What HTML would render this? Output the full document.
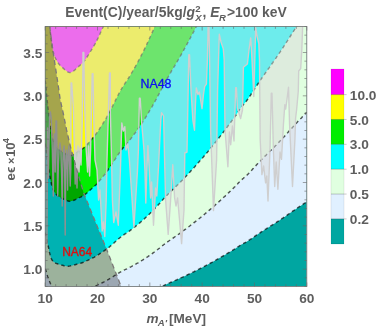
<!DOCTYPE html>
<html><head><meta charset="utf-8"><title>Contour plot</title>
<style>
html,body{margin:0;padding:0;background:#fff;}
body{width:382px;height:328px;overflow:hidden;font-family:"Liberation Sans",sans-serif;}
svg{display:block;}
text{font-family:"Liberation Sans",sans-serif;font-weight:bold;fill:#5e5e5e;}
.tl{font-size:13.7px;}
.it{font-style:italic;}
</style></head><body>
<svg width="382" height="328" viewBox="0 0 382 328">
<defs><filter id="ga" filterUnits="userSpaceOnUse" x="0" y="0" width="382" height="328"><feOffset dx="0" dy="0"/></filter><clipPath id="pc"><rect x="45.2" y="26.5" width="261.6" height="260.0"/></clipPath></defs>
<rect width="382" height="328" fill="#fff"/>
<g clip-path="url(#pc)">
<rect x="45.2" y="26.5" width="261.6" height="260.0" fill="#00a6a1"/>
<polygon points="45.2,-50.0 45.2,300.8 45.9,301.9 46.5,303.2 47.2,304.8 47.8,305.9 48.5,306.9 49.1,307.9 49.8,309.2 50.4,310.1 51.1,310.9 51.7,311.6 52.4,312.2 53.0,312.7 53.7,313.1 54.4,313.3 55.0,313.6 55.7,313.8 56.3,314.0 57.0,314.2 57.6,314.3 58.3,314.4 58.9,314.6 59.6,314.7 60.2,314.8 60.9,314.9 61.6,315.0 62.2,315.0 62.9,315.1 63.5,315.2 64.2,315.3 64.8,315.4 65.5,315.4 66.1,315.5 66.8,315.6 67.4,315.7 68.1,315.7 68.7,315.7 69.4,315.8 70.1,315.8 70.7,315.7 71.4,315.7 72.0,315.7 72.7,315.6 73.3,315.6 74.0,315.5 74.6,315.4 75.3,315.3 75.9,315.3 76.6,315.2 77.2,315.1 77.9,315.0 78.6,314.9 79.2,314.8 79.9,314.8 80.5,314.7 81.2,314.6 81.8,314.5 82.5,314.4 83.1,314.3 83.8,314.2 84.4,314.1 85.1,314.0 85.7,313.9 86.4,313.7 87.1,313.6 87.7,313.4 88.4,313.3 89.0,313.1 89.7,313.0 90.3,312.8 91.0,312.7 91.6,312.5 92.3,312.4 92.9,312.2 93.6,312.1 94.2,311.9 94.9,311.8 95.6,311.6 96.2,311.4 96.9,311.2 97.5,311.0 98.2,310.8 98.8,310.6 99.5,310.4 100.1,310.2 100.8,310.0 101.4,309.8 102.1,309.6 102.8,309.4 103.4,309.2 104.1,309.0 104.7,308.8 105.4,308.6 106.0,308.4 106.7,308.1 107.3,307.9 108.0,307.7 108.6,307.4 109.3,307.2 109.9,306.9 110.6,306.7 111.3,306.4 111.9,306.2 112.6,305.9 113.2,305.6 113.9,305.4 114.5,305.1 115.2,304.8 115.8,304.6 116.5,304.3 117.1,304.1 117.8,303.8 118.4,303.6 119.1,303.3 119.8,303.1 120.4,302.8 121.1,302.6 121.7,302.4 122.4,302.2 123.0,301.9 123.7,301.7 124.3,301.5 125.0,301.3 125.6,301.2 126.3,301.0 127.0,300.8 127.6,300.6 128.3,300.4 128.9,300.2 129.6,300.0 130.2,299.7 130.9,299.5 131.5,299.3 132.2,299.1 132.8,298.8 133.5,298.6 134.1,298.4 134.8,298.2 135.5,297.9 136.1,297.7 136.8,297.5 137.4,297.2 138.1,297.0 138.7,296.7 139.4,296.5 140.0,296.2 140.7,296.0 141.3,295.7 142.0,295.5 142.6,295.2 143.3,295.0 144.0,294.7 144.6,294.4 145.3,294.2 145.9,293.9 146.6,293.6 147.2,293.3 147.9,293.1 148.5,292.8 149.2,292.5 149.8,292.2 150.5,291.9 151.1,291.6 151.8,291.3 152.5,291.0 153.1,290.7 153.8,290.4 154.4,290.1 155.1,289.8 155.7,289.5 156.4,289.2 157.0,288.9 157.7,288.6 158.3,288.3 159.0,287.9 159.7,287.6 160.3,287.3 161.0,286.9 161.6,286.6 162.3,286.2 162.9,285.9 163.6,285.6 164.2,285.3 164.9,285.0 165.5,284.7 166.2,284.4 166.8,284.1 167.5,283.8 168.2,283.5 168.8,283.2 169.5,282.9 170.1,282.6 170.8,282.3 171.4,282.1 172.1,281.8 172.7,281.5 173.4,281.2 174.0,280.9 174.7,280.6 175.3,280.4 176.0,280.1 176.7,279.8 177.3,279.5 178.0,279.2 178.6,278.9 179.3,278.6 179.9,278.3 180.6,278.0 181.2,277.7 181.9,277.4 182.5,277.1 183.2,276.8 183.8,276.5 184.5,276.2 185.2,275.9 185.8,275.6 186.5,275.3 187.1,275.0 187.8,274.6 188.4,274.3 189.1,274.0 189.7,273.7 190.4,273.4 191.0,273.1 191.7,272.7 192.4,272.4 193.0,272.1 193.7,271.8 194.3,271.5 195.0,271.1 195.6,270.8 196.3,270.5 196.9,270.2 197.6,269.8 198.2,269.5 198.9,269.2 199.5,268.8 200.2,268.5 200.9,268.2 201.5,267.8 202.2,267.5 202.8,267.2 203.5,266.8 204.1,266.5 204.8,266.1 205.4,265.8 206.1,265.4 206.7,265.1 207.4,264.8 208.0,264.4 208.7,264.0 209.4,263.7 210.0,263.3 210.7,263.0 211.3,262.6 212.0,262.3 212.6,261.9 213.3,261.5 213.9,261.2 214.6,260.8 215.2,260.4 215.9,260.1 216.5,259.7 217.2,259.3 217.9,259.0 218.5,258.6 219.2,258.2 219.8,257.8 220.5,257.5 221.1,257.1 221.8,256.7 222.4,256.3 223.1,256.0 223.7,255.6 224.4,255.2 225.1,254.8 225.7,254.4 226.4,254.0 227.0,253.6 227.7,253.2 228.3,252.8 229.0,252.5 229.6,252.1 230.3,251.7 230.9,251.3 231.6,250.9 232.2,250.5 232.9,250.1 233.6,249.7 234.2,249.3 234.9,248.9 235.5,248.4 236.2,248.0 236.8,247.6 237.5,247.2 238.1,246.7 238.8,246.3 239.4,245.8 240.1,245.4 240.7,245.0 241.4,244.6 242.1,244.3 242.7,243.9 243.4,243.5 244.0,243.2 244.7,242.8 245.3,242.5 246.0,242.1 246.6,241.7 247.3,241.3 247.9,240.9 248.6,240.5 249.2,240.1 249.9,239.7 250.6,239.2 251.2,238.8 251.9,238.3 252.5,237.9 253.2,237.4 253.8,236.9 254.5,236.5 255.1,236.0 255.8,235.6 256.4,235.1 257.1,234.7 257.8,234.3 258.4,233.8 259.1,233.4 259.7,233.0 260.4,232.6 261.0,232.1 261.7,231.7 262.3,231.3 263.0,230.9 263.6,230.5 264.3,230.0 264.9,229.6 265.6,229.2 266.3,228.8 266.9,228.4 267.6,228.0 268.2,227.6 268.9,227.2 269.5,226.7 270.2,226.3 270.8,225.9 271.5,225.5 272.1,225.1 272.8,224.7 273.4,224.3 274.1,223.8 274.8,223.4 275.4,223.0 276.1,222.6 276.7,222.2 277.4,221.7 278.0,221.3 278.7,220.9 279.3,220.4 280.0,220.0 280.6,219.6 281.3,219.1 281.9,218.7 282.6,218.2 283.3,217.8 283.9,217.3 284.6,216.9 285.2,216.4 285.9,216.0 286.5,215.5 287.2,215.1 287.8,214.6 288.5,214.2 289.1,213.7 289.8,213.2 290.5,212.8 291.1,212.3 291.8,211.9 292.4,211.4 293.1,211.0 293.7,210.5 294.4,210.1 295.0,209.6 295.7,209.2 296.3,208.7 297.0,208.3 297.6,207.8 298.3,207.4 299.0,207.0 299.6,206.5 300.3,206.1 300.9,205.7 301.6,205.2 302.2,204.8 302.9,204.4 303.5,203.9 304.2,203.5 304.8,203.1 305.5,202.6 306.1,202.2 306.8,201.8 306.8,-50.0" fill="#e0f0ff"/>
<polygon points="45.2,-50.0 45.2,268.8 45.9,270.6 46.5,272.7 47.2,275.1 47.8,277.0 48.5,278.5 49.1,280.1 49.8,282.1 50.4,283.5 51.1,284.8 51.7,285.9 52.4,286.9 53.0,287.7 53.7,288.2 54.4,288.7 55.0,289.0 55.7,289.4 56.3,289.7 57.0,289.9 57.6,290.2 58.3,290.4 58.9,290.6 59.6,290.8 60.2,290.9 60.9,291.1 61.6,291.2 62.2,291.3 62.9,291.5 63.5,291.6 64.2,291.7 64.8,291.8 65.5,292.0 66.1,292.1 66.8,292.2 67.4,292.3 68.1,292.4 68.7,292.4 69.4,292.5 70.1,292.5 70.7,292.5 71.4,292.4 72.0,292.3 72.7,292.3 73.3,292.2 74.0,292.1 74.6,291.9 75.3,291.8 75.9,291.7 76.6,291.5 77.2,291.4 77.9,291.3 78.6,291.1 79.2,291.0 79.9,290.9 80.5,290.8 81.2,290.6 81.8,290.5 82.5,290.4 83.1,290.2 83.8,290.0 84.4,289.9 85.1,289.7 85.7,289.5 86.4,289.2 87.1,289.0 87.7,288.8 88.4,288.5 89.0,288.3 89.7,288.0 90.3,287.8 91.0,287.6 91.6,287.3 92.3,287.1 92.9,286.9 93.6,286.6 94.2,286.4 94.9,286.1 95.6,285.9 96.2,285.6 96.9,285.3 97.5,285.0 98.2,284.7 98.8,284.4 99.5,284.1 100.1,283.8 100.8,283.4 101.4,283.1 102.1,282.8 102.8,282.5 103.4,282.1 104.1,281.8 104.7,281.5 105.4,281.1 106.0,280.8 106.7,280.4 107.3,280.1 108.0,279.7 108.6,279.3 109.3,278.9 109.9,278.5 110.6,278.1 111.3,277.7 111.9,277.3 112.6,276.9 113.2,276.5 113.9,276.0 114.5,275.6 115.2,275.2 115.8,274.8 116.5,274.4 117.1,274.0 117.8,273.6 118.4,273.2 119.1,272.8 119.8,272.4 120.4,272.0 121.1,271.7 121.7,271.3 122.4,271.0 123.0,270.6 123.7,270.3 124.3,270.0 125.0,269.7 125.6,269.4 126.3,269.1 127.0,268.8 127.6,268.5 128.3,268.1 128.9,267.8 129.6,267.5 130.2,267.1 130.9,266.8 131.5,266.4 132.2,266.1 132.8,265.7 133.5,265.4 134.1,265.0 134.8,264.6 135.5,264.3 136.1,263.9 136.8,263.5 137.4,263.1 138.1,262.8 138.7,262.4 139.4,262.0 140.0,261.6 140.7,261.2 141.3,260.8 142.0,260.4 142.6,260.0 143.3,259.6 144.0,259.2 144.6,258.8 145.3,258.3 145.9,257.9 146.6,257.5 147.2,257.0 147.9,256.6 148.5,256.2 149.2,255.7 149.8,255.2 150.5,254.8 151.1,254.3 151.8,253.9 152.5,253.4 153.1,252.9 153.8,252.4 154.4,252.0 155.1,251.5 155.7,251.0 156.4,250.5 157.0,250.0 157.7,249.5 158.3,249.0 159.0,248.5 159.7,248.0 160.3,247.4 161.0,246.9 161.6,246.3 162.3,245.8 162.9,245.3 163.6,244.8 164.2,244.3 164.9,243.8 165.5,243.3 166.2,242.9 166.8,242.4 167.5,241.9 168.2,241.5 168.8,241.0 169.5,240.5 170.1,240.1 170.8,239.6 171.4,239.2 172.1,238.7 172.7,238.3 173.4,237.8 174.0,237.4 174.7,236.9 175.3,236.5 176.0,236.0 176.7,235.6 177.3,235.1 178.0,234.7 178.6,234.2 179.3,233.8 179.9,233.3 180.6,232.8 181.2,232.4 181.9,231.9 182.5,231.4 183.2,230.9 183.8,230.4 184.5,229.9 185.2,229.4 185.8,229.0 186.5,228.5 187.1,228.0 187.8,227.5 188.4,227.0 189.1,226.5 189.7,226.0 190.4,225.5 191.0,225.0 191.7,224.5 192.4,224.0 193.0,223.5 193.7,222.9 194.3,222.4 195.0,221.9 195.6,221.4 196.3,220.9 196.9,220.4 197.6,219.9 198.2,219.3 198.9,218.8 199.5,218.3 200.2,217.8 200.9,217.2 201.5,216.7 202.2,216.2 202.8,215.6 203.5,215.1 204.1,214.6 204.8,214.0 205.4,213.5 206.1,212.9 206.7,212.4 207.4,211.8 208.0,211.3 208.7,210.7 209.4,210.1 210.0,209.6 210.7,209.0 211.3,208.5 212.0,207.9 212.6,207.3 213.3,206.7 213.9,206.2 214.6,205.6 215.2,205.0 215.9,204.4 216.5,203.9 217.2,203.3 217.9,202.7 218.5,202.1 219.2,201.5 219.8,200.9 220.5,200.3 221.1,199.7 221.8,199.1 222.4,198.5 223.1,197.9 223.7,197.3 224.4,196.7 225.1,196.1 225.7,195.5 226.4,194.9 227.0,194.2 227.7,193.6 228.3,193.0 229.0,192.4 229.6,191.7 230.3,191.1 230.9,190.5 231.6,189.9 232.2,189.2 232.9,188.6 233.6,188.0 234.2,187.3 234.9,186.7 235.5,186.0 236.2,185.4 236.8,184.7 237.5,184.0 238.1,183.3 238.8,182.6 239.4,181.9 240.1,181.3 240.7,180.6 241.4,180.0 242.1,179.4 242.7,178.8 243.4,178.3 244.0,177.7 244.7,177.2 245.3,176.6 246.0,176.0 246.6,175.4 247.3,174.8 247.9,174.2 248.6,173.5 249.2,172.8 249.9,172.1 250.6,171.4 251.2,170.7 251.9,170.0 252.5,169.3 253.2,168.6 253.8,167.8 254.5,167.1 255.1,166.4 255.8,165.7 256.4,165.0 257.1,164.3 257.8,163.6 258.4,162.9 259.1,162.3 259.7,161.6 260.4,160.9 261.0,160.2 261.7,159.6 262.3,158.9 263.0,158.3 263.6,157.6 264.3,157.0 264.9,156.3 265.6,155.6 266.3,155.0 266.9,154.3 267.6,153.7 268.2,153.0 268.9,152.4 269.5,151.7 270.2,151.1 270.8,150.4 271.5,149.8 272.1,149.1 272.8,148.5 273.4,147.8 274.1,147.1 274.8,146.5 275.4,145.8 276.1,145.2 276.7,144.5 277.4,143.8 278.0,143.1 278.7,142.5 279.3,141.8 280.0,141.1 280.6,140.4 281.3,139.7 281.9,139.0 282.6,138.3 283.3,137.6 283.9,136.9 284.6,136.2 285.2,135.4 285.9,134.7 286.5,134.0 287.2,133.3 287.8,132.6 288.5,131.8 289.1,131.1 289.8,130.4 290.5,129.7 291.1,128.9 291.8,128.2 292.4,127.5 293.1,126.8 293.7,126.1 294.4,125.4 295.0,124.6 295.7,123.9 296.3,123.2 297.0,122.5 297.6,121.8 298.3,121.1 299.0,120.5 299.6,119.8 300.3,119.1 300.9,118.4 301.6,117.7 302.2,117.0 302.9,116.3 303.5,115.6 304.2,115.0 304.8,114.3 305.5,113.6 306.1,112.9 306.8,112.2 306.8,-50.0" fill="#e0ffe0"/>
<polygon points="45.2,-50.0 45.2,232.8 45.9,235.2 46.5,238.2 47.2,241.7 47.8,244.3 48.3,246.4 48.8,248.7 49.3,251.6 49.8,253.6 50.2,255.4 50.7,257.0 51.2,258.3 51.7,259.4 52.1,260.2 52.6,260.8 53.1,261.4 53.6,261.9 54.1,262.3 54.8,262.6 55.4,263.0 56.1,263.3 56.7,263.6 57.4,263.8 58.0,264.0 58.7,264.2 59.4,264.4 60.0,264.6 60.7,264.8 61.3,265.0 62.0,265.2 62.6,265.3 63.3,265.5 63.9,265.7 64.6,265.9 65.2,266.0 65.9,266.1 66.5,266.2 67.2,266.2 67.9,266.2 68.5,266.2 69.2,266.1 69.8,266.1 70.5,265.9 71.1,265.8 71.8,265.6 72.4,265.5 73.1,265.3 73.8,265.1 74.5,264.9 75.2,264.7 75.9,264.5 76.6,264.3 77.3,264.1 78.0,264.0 78.7,263.8 79.4,263.6 80.1,263.4 80.7,263.2 81.4,263.0 82.1,262.8 82.8,262.5 83.5,262.3 84.2,262.0 84.9,261.7 85.6,261.3 86.3,261.0 87.0,260.6 87.7,260.3 88.4,260.0 89.1,259.6 89.8,259.3 90.5,259.0 91.2,258.7 91.9,258.3 92.6,258.0 93.3,257.6 94.0,257.3 94.7,256.9 95.3,256.5 96.0,256.1 96.7,255.7 97.4,255.2 98.1,254.8 98.8,254.4 99.5,253.9 100.2,253.4 100.9,253.0 101.6,252.5 102.3,252.1 103.0,251.6 103.7,251.1 104.4,250.7 105.1,250.2 105.8,249.7 106.5,249.2 107.2,248.7 107.9,248.1 108.6,247.6 109.2,247.1 109.9,246.5 110.6,245.9 111.3,245.3 111.9,244.8 112.6,244.2 113.2,243.6 113.9,243.0 114.5,242.4 115.2,241.8 115.8,241.2 116.5,240.7 117.1,240.1 117.8,239.5 118.4,238.9 119.1,238.4 119.8,237.8 120.4,237.3 121.1,236.8 121.7,236.3 122.4,235.8 123.0,235.3 123.7,234.9 124.3,234.4 125.0,234.0 125.6,233.6 126.3,233.1 127.0,232.7 127.6,232.3 128.3,231.8 128.9,231.4 129.6,230.9 130.2,230.4 130.9,229.9 131.5,229.4 132.2,228.9 132.8,228.4 133.5,227.9 134.1,227.4 134.8,226.9 135.5,226.4 136.1,225.8 136.8,225.3 137.4,224.8 138.1,224.2 138.7,223.7 139.4,223.1 140.0,222.6 140.7,222.0 141.3,221.4 142.0,220.9 142.6,220.3 143.3,219.7 144.0,219.1 144.6,218.5 145.3,217.9 145.9,217.3 146.6,216.7 147.2,216.1 147.9,215.5 148.5,214.9 149.2,214.2 149.8,213.6 150.5,212.9 151.1,212.3 151.8,211.6 152.5,211.0 153.1,210.3 153.8,209.6 154.4,208.9 155.1,208.2 155.7,207.5 156.4,206.9 157.0,206.1 157.7,205.4 158.3,204.7 159.0,204.0 159.7,203.3 160.3,202.5 161.0,201.8 161.6,201.0 162.3,200.2 162.9,199.5 163.6,198.8 164.2,198.1 164.9,197.4 165.5,196.7 166.2,196.1 166.8,195.4 167.5,194.7 168.2,194.1 168.8,193.4 169.5,192.8 170.1,192.1 170.8,191.5 171.4,190.9 172.1,190.2 172.7,189.6 173.4,189.0 174.0,188.3 174.7,187.7 175.3,187.0 176.0,186.4 176.7,185.8 177.3,185.1 178.0,184.5 178.6,183.8 179.3,183.2 179.9,182.5 180.6,181.9 181.2,181.2 181.9,180.5 182.5,179.9 183.2,179.2 183.8,178.5 184.5,177.8 185.2,177.1 185.8,176.4 186.5,175.7 187.1,175.0 187.8,174.3 188.4,173.6 189.1,172.9 189.7,172.2 190.4,171.5 191.0,170.8 191.7,170.1 192.4,169.3 193.0,168.6 193.7,167.9 194.3,167.2 195.0,166.5 195.6,165.7 196.3,165.0 196.9,164.3 197.6,163.5 198.2,162.8 198.9,162.1 199.5,161.3 200.2,160.6 200.9,159.8 201.5,159.1 202.2,158.3 202.8,157.6 203.5,156.8 204.1,156.0 204.8,155.3 205.4,154.5 206.1,153.7 206.7,152.9 207.4,152.2 208.0,151.4 208.7,150.6 209.4,149.8 210.0,149.0 210.7,148.2 211.3,147.4 212.0,146.6 212.6,145.8 213.3,145.0 213.9,144.2 214.6,143.4 215.2,142.5 215.9,141.7 216.5,140.9 217.2,140.1 217.9,139.2 218.5,138.4 219.2,137.6 219.8,136.7 220.5,135.9 221.1,135.0 221.8,134.2 222.4,133.3 223.1,132.5 223.7,131.6 224.4,130.8 225.1,129.9 225.7,129.0 226.4,128.2 227.0,127.3 227.7,126.4 228.3,125.5 229.0,124.7 229.6,123.8 230.3,122.9 230.9,122.0 231.6,121.1 232.2,120.2 232.9,119.3 233.6,118.4 234.2,117.5 234.9,116.6 235.5,115.7 236.2,114.8 236.8,113.8 237.5,112.8 238.1,111.8 238.8,110.9 239.4,109.9 240.1,109.0 240.7,108.1 241.4,107.2 242.1,106.3 242.7,105.5 243.4,104.7 244.0,103.9 244.7,103.2 245.3,102.4 246.0,101.5 246.6,100.7 247.3,99.8 247.9,98.9 248.6,98.0 249.2,97.0 249.9,96.0 250.6,95.1 251.2,94.0 251.9,93.0 252.5,92.0 253.2,91.0 253.8,90.0 254.5,89.0 255.1,87.9 255.8,86.9 256.4,85.9 257.1,85.0 257.8,84.0 258.4,83.0 259.1,82.1 259.7,81.1 260.4,80.2 261.0,79.2 261.7,78.3 262.3,77.4 263.0,76.4 263.6,75.5 264.3,74.6 264.9,73.6 265.6,72.7 266.3,71.8 266.9,70.9 267.6,70.0 268.2,69.0 268.9,68.1 269.5,67.2 270.2,66.3 270.8,65.3 271.5,64.4 272.1,63.5 272.8,62.6 273.4,61.6 274.1,60.7 274.8,59.8 275.4,58.8 276.1,57.9 276.7,56.9 277.4,56.0 278.0,55.0 278.7,54.1 279.3,53.1 280.0,52.1 280.6,51.2 281.3,50.2 281.9,49.2 282.6,48.2 283.3,47.2 283.9,46.2 284.6,45.2 285.2,44.2 285.9,43.1 286.5,42.1 287.2,41.1 287.8,40.1 288.5,39.1 289.1,38.0 289.8,37.0 290.5,36.0 291.1,35.0 291.8,33.9 292.4,32.9 293.1,31.9 293.7,30.9 294.4,29.9 295.0,28.9 295.7,27.9 296.3,26.9 297.0,25.9 297.6,24.9 298.3,23.9 299.0,23.0 299.6,22.0 300.3,21.0 300.9,20.0 301.6,19.1 302.2,18.1 302.9,17.1 303.5,16.1 304.2,15.2 304.8,14.2 305.5,13.3 306.1,12.3 306.8,11.3 306.8,-50.0" fill="#00ffff"/>
<polygon points="45.2,-50.0 45.2,143.5 45.9,147.8 46.5,152.9 47.2,159.0 47.8,163.4 48.5,167.1 49.1,171.1 49.8,175.9 50.4,179.4 51.1,182.5 51.7,185.3 52.4,187.6 53.0,189.5 53.7,190.9 54.4,191.9 55.0,192.9 55.7,193.7 56.3,194.4 57.0,195.1 57.6,195.6 58.3,196.2 58.9,196.6 59.6,197.1 60.2,197.5 60.9,197.8 61.6,198.2 62.2,198.5 62.9,198.8 63.5,199.1 64.2,199.4 64.8,199.7 65.5,200.0 66.1,200.3 66.8,200.6 67.4,200.8 68.1,201.0 68.7,201.2 69.4,201.3 70.1,201.3 70.7,201.2 71.4,201.1 72.0,200.9 72.7,200.7 73.3,200.5 74.0,200.2 74.6,200.0 75.3,199.6 75.9,199.3 76.6,199.0 77.2,198.6 77.9,198.3 78.6,198.0 79.2,197.7 79.9,197.4 80.5,197.1 81.2,196.8 81.8,196.4 82.5,196.1 83.1,195.7 83.8,195.3 84.4,194.9 85.1,194.4 85.7,193.9 86.4,193.4 87.1,192.8 87.7,192.2 88.4,191.6 89.0,191.0 89.7,190.4 90.3,189.9 91.0,189.3 91.6,188.7 92.3,188.2 92.9,187.6 93.6,187.0 94.2,186.4 94.9,185.8 95.6,185.2 96.2,184.5 96.9,183.8 97.5,183.0 98.2,182.3 98.8,181.5 99.5,180.8 100.1,180.0 100.8,179.2 101.4,178.4 102.1,177.6 102.8,176.8 103.4,176.0 104.1,175.2 104.7,174.4 105.4,173.6 106.0,172.7 106.7,171.9 107.3,171.0 108.0,170.1 108.6,169.1 109.3,168.2 109.9,167.2 110.6,166.2 111.3,165.2 111.9,164.2 112.6,163.2 113.2,162.2 113.9,161.2 114.5,160.2 115.2,159.2 115.8,158.1 116.5,157.1 117.1,156.1 117.8,155.2 118.4,154.2 119.1,153.2 119.8,152.3 120.4,151.4 121.1,150.5 121.7,149.6 122.4,148.8 123.0,148.0 123.7,147.2 124.3,146.4 125.0,145.6 125.6,144.9 126.3,144.2 127.0,143.4 127.6,142.7 128.3,141.9 128.9,141.1 129.6,140.3 130.2,139.5 130.9,138.6 131.5,137.8 132.2,136.9 132.8,136.0 133.5,135.1 134.1,134.3 134.8,133.4 135.5,132.5 136.1,131.6 136.8,130.6 137.4,129.7 138.1,128.8 138.7,127.8 139.4,126.9 140.0,125.9 140.7,125.0 141.3,124.0 142.0,123.0 142.6,122.0 143.3,121.0 144.0,120.0 144.6,119.0 145.3,118.0 145.9,116.9 146.6,115.9 147.2,114.8 147.9,113.7 148.5,112.6 149.2,111.5 149.8,110.4 150.5,109.3 151.1,108.2 151.8,107.1 152.5,105.9 153.1,104.7 153.8,103.6 154.4,102.4 155.1,101.2 155.7,100.0 156.4,98.8 157.0,97.6 157.7,96.4 158.3,95.2 159.0,93.9 159.7,92.7 160.3,91.4 161.0,90.0 161.6,88.7 162.3,87.4 162.9,86.2 163.6,85.0 164.2,83.8 164.9,82.6 165.5,81.4 166.2,80.2 166.8,79.1 167.5,77.9 168.2,76.8 168.8,75.7 169.5,74.6 170.1,73.4 170.8,72.3 171.4,71.2 172.1,70.1 172.7,69.0 173.4,67.9 174.0,66.8 174.7,65.8 175.3,64.7 176.0,63.6 176.7,62.5 177.3,61.4 178.0,60.2 178.6,59.1 179.3,58.0 179.9,56.9 180.6,55.7 181.2,54.6 181.9,53.4 182.5,52.3 183.2,51.1 183.8,49.9 184.5,48.7 185.2,47.5 185.8,46.3 186.5,45.1 187.1,43.9 187.8,42.7 188.4,41.4 189.1,40.2 189.7,39.0 190.4,37.8 191.0,36.6 191.7,35.3 192.4,34.1 193.0,32.9 193.7,31.6 194.3,30.4 195.0,29.1 195.6,27.9 196.3,26.6 196.9,25.4 197.6,24.1 198.2,22.8 198.9,21.5 199.5,20.3 200.2,19.0 200.9,17.7 201.5,16.4 202.2,15.1 202.8,13.8 203.5,12.5 204.1,11.2 204.8,9.8 205.4,8.5 206.1,7.2 206.7,5.8 207.4,4.5 208.0,3.1 208.7,1.8 209.4,0.4 210.0,-1.0 210.7,-2.3 211.3,-3.7 212.0,-5.1 212.6,-6.5 213.3,-7.9 213.9,-9.3 214.6,-10.7 215.2,-12.1 215.9,-13.5 216.5,-15.0 217.2,-16.4 217.9,-17.8 218.5,-19.3 219.2,-20.7 219.8,-22.1 220.5,-23.6 221.1,-25.1 221.8,-26.5 222.4,-28.0 223.1,-29.5 223.7,-30.9 224.4,-32.4 225.1,-33.9 225.7,-35.4 226.4,-36.9 227.0,-38.4 227.7,-39.9 228.3,-41.4 229.0,-43.0 229.6,-44.5 230.3,-46.0 230.9,-47.5 231.6,-49.1 232.2,-50.6 232.9,-52.2 233.6,-53.7 234.2,-55.3 234.9,-56.8 235.5,-58.4 236.2,-60.1 236.8,-61.7 237.5,-63.4 238.1,-65.1 238.8,-66.8 239.4,-68.4 240.1,-70.0 240.7,-71.6 241.4,-73.1 242.1,-74.6 242.7,-76.0 243.4,-77.3 244.0,-78.7 244.7,-80.1 245.3,-81.4 246.0,-82.9 246.6,-84.3 247.3,-85.8 247.9,-87.4 248.6,-89.0 249.2,-90.7 249.9,-92.3 250.6,-94.0 251.2,-95.8 251.9,-97.5 252.5,-99.3 253.2,-101.0 253.8,-102.8 254.5,-104.6 255.1,-106.3 255.8,-108.1 256.4,-109.8 257.1,-111.5 257.8,-113.1 258.4,-114.8 259.1,-116.4 259.7,-118.1 260.4,-119.7 261.0,-121.3 261.7,-123.0 262.3,-124.6 263.0,-126.2 263.6,-127.8 264.3,-129.4 264.9,-131.0 265.6,-132.6 266.3,-134.2 266.9,-135.8 267.6,-137.3 268.2,-138.9 268.9,-140.5 269.5,-142.1 270.2,-143.7 270.8,-145.3 271.5,-146.9 272.1,-148.5 272.8,-150.1 273.4,-151.7 274.1,-153.3 274.8,-154.9 275.4,-156.5 276.1,-158.2 276.7,-159.8 277.4,-161.4 278.0,-163.1 278.7,-164.7 279.3,-166.4 280.0,-168.1 280.6,-169.8 281.3,-171.5 281.9,-173.2 282.6,-174.9 283.3,-176.6 283.9,-178.4 284.6,-180.1 285.2,-181.9 285.9,-183.6 286.5,-185.4 287.2,-187.1 287.8,-188.9 288.5,-190.7 289.1,-192.4 289.8,-194.2 290.5,-195.9 291.1,-197.7 291.8,-199.5 292.4,-201.2 293.1,-203.0 293.7,-204.7 294.4,-206.5 295.0,-208.2 295.7,-209.9 296.3,-211.6 297.0,-213.3 297.6,-215.0 298.3,-216.7 299.0,-218.4 299.6,-220.1 300.3,-221.8 300.9,-223.5 301.6,-225.2 302.2,-226.8 302.9,-228.5 303.5,-230.2 304.2,-231.8 304.8,-233.5 305.5,-235.2 306.1,-236.8 306.8,-238.5 306.8,-50.0" fill="#00ee00"/>
<polygon points="45.2,-50.0 45.2,80.6 45.9,86.2 46.5,92.8 47.2,100.6 47.8,106.4 48.5,111.2 49.1,116.4 49.8,122.7 50.4,127.2 51.1,131.2 51.7,134.7 52.4,137.8 53.0,140.2 53.7,142.0 54.4,143.4 55.0,144.6 55.7,145.7 56.3,146.6 57.0,147.5 57.6,148.2 58.3,148.9 58.9,149.5 59.6,150.0 60.2,150.6 60.9,151.0 61.6,151.5 62.2,151.9 62.9,152.3 63.5,152.7 64.2,153.1 64.8,153.5 65.5,153.9 66.1,154.3 66.8,154.6 67.4,154.9 68.1,155.2 68.7,155.4 69.4,155.5 70.1,155.5 70.7,155.4 71.4,155.3 72.0,155.1 72.7,154.8 73.3,154.5 74.0,154.2 74.6,153.8 75.3,153.4 75.9,153.0 76.6,152.5 77.2,152.1 77.9,151.6 78.6,151.2 79.2,150.8 79.9,150.4 80.5,150.0 81.2,149.6 81.8,149.2 82.5,148.8 83.1,148.3 83.8,147.8 84.4,147.2 85.1,146.6 85.7,146.0 86.4,145.3 87.1,144.5 87.7,143.8 88.4,143.0 89.0,142.2 89.7,141.5 90.3,140.7 91.0,140.0 91.6,139.3 92.3,138.5 92.9,137.8 93.6,137.0 94.2,136.3 94.9,135.4 95.6,134.6 96.2,133.7 96.9,132.8 97.5,131.9 98.2,130.9 98.8,129.9 99.5,128.9 100.1,127.9 100.8,126.9 101.4,125.8 102.1,124.8 102.8,123.8 103.4,122.7 104.1,121.7 104.7,120.7 105.4,119.6 106.0,118.5 106.7,117.4 107.3,116.2 108.0,115.0 108.6,113.8 109.3,112.6 109.9,111.3 110.6,110.1 111.3,108.8 111.9,107.5 112.6,106.2 113.2,104.9 113.9,103.5 114.5,102.2 115.2,100.9 115.8,99.6 116.5,98.3 117.1,97.0 117.8,95.7 118.4,94.5 119.1,93.2 119.8,92.0 120.4,90.8 121.1,89.7 121.7,88.5 122.4,87.4 123.0,86.4 123.7,85.4 124.3,84.4 125.0,83.4 125.6,82.4 126.3,81.5 127.0,80.5 127.6,79.5 128.3,78.5 128.9,77.5 129.6,76.4 130.2,75.4 130.9,74.3 131.5,73.2 132.2,72.0 132.8,70.9 133.5,69.8 134.1,68.6 134.8,67.5 135.5,66.3 136.1,65.1 136.8,63.9 137.4,62.7 138.1,61.5 138.7,60.3 139.4,59.1 140.0,57.8 140.7,56.6 141.3,55.3 142.0,54.0 142.6,52.8 143.3,51.5 144.0,50.2 144.6,48.8 145.3,47.5 145.9,46.2 146.6,44.8 147.2,43.4 147.9,42.0 148.5,40.6 149.2,39.2 149.8,37.8 150.5,36.3 151.1,34.8 151.8,33.4 152.5,31.9 153.1,30.4 153.8,28.9 154.4,27.3 155.1,25.8 155.7,24.3 156.4,22.7 157.0,21.1 157.7,19.6 158.3,18.0 159.0,16.4 159.7,14.7 160.3,13.0 161.0,11.3 161.6,9.6 162.3,7.9 162.9,6.3 163.6,4.7 164.2,3.2 164.9,1.6 165.5,0.1 166.2,-1.4 166.8,-2.9 167.5,-4.4 168.2,-5.8 168.8,-7.3 169.5,-8.8 170.1,-10.2 170.8,-11.6 171.4,-13.1 172.1,-14.5 172.7,-15.9 173.4,-17.3 174.0,-18.7 174.7,-20.2 175.3,-21.6 176.0,-23.0 176.7,-24.4 177.3,-25.9 178.0,-27.3 178.6,-28.8 179.3,-30.2 179.9,-31.7 180.6,-33.2 181.2,-34.6 181.9,-36.1 182.5,-37.7 183.2,-39.2 183.8,-40.7 184.5,-42.3 185.2,-43.8 185.8,-45.4 186.5,-47.0 187.1,-48.5 187.8,-50.1 188.4,-51.7 189.1,-53.2 189.7,-54.8 190.4,-56.4 191.0,-58.0 191.7,-59.6 192.4,-61.2 193.0,-62.8 193.7,-64.4 194.3,-66.0 195.0,-67.6 195.6,-69.3 196.3,-70.9 196.9,-72.5 197.6,-74.2 198.2,-75.8 198.9,-77.5 199.5,-79.1 200.2,-80.8 200.9,-82.5 201.5,-84.1 202.2,-85.8 202.8,-87.5 203.5,-89.2 204.1,-90.9 204.8,-92.6 205.4,-94.4 206.1,-96.1 206.7,-97.8 207.4,-99.6 208.0,-101.3 208.7,-103.1 209.4,-104.9 210.0,-106.6 210.7,-108.4 211.3,-110.2 212.0,-112.0 212.6,-113.8 213.3,-115.6 213.9,-117.4 214.6,-119.3 215.2,-121.1 215.9,-122.9 216.5,-124.8 217.2,-126.6 217.9,-128.5 218.5,-130.3 219.2,-132.2 219.8,-134.1 220.5,-136.0 221.1,-137.9 221.8,-139.8 222.4,-141.7 223.1,-143.6 223.7,-145.5 224.4,-147.4 225.1,-149.4 225.7,-151.3 226.4,-153.2 227.0,-155.2 227.7,-157.1 228.3,-159.1 229.0,-161.1 229.6,-163.0 230.3,-165.0 230.9,-167.0 231.6,-169.0 232.2,-171.0 232.9,-173.0 233.6,-175.0 234.2,-177.0 234.9,-179.1 235.5,-181.1 236.2,-183.2 236.8,-185.4 237.5,-187.6 238.1,-189.8 238.8,-191.9 239.4,-194.1 240.1,-196.2 240.7,-198.2 241.4,-200.2 242.1,-202.0 242.7,-203.9 243.4,-205.6 244.0,-207.4 244.7,-209.2 245.3,-211.0 246.0,-212.8 246.6,-214.7 247.3,-216.6 247.9,-218.7 248.6,-220.8 249.2,-222.9 249.9,-225.1 250.6,-227.3 251.2,-229.5 251.9,-231.8 252.5,-234.1 253.2,-236.4 253.8,-238.6 254.5,-240.9 255.1,-243.2 255.8,-245.5 256.4,-247.7 257.1,-249.9 257.8,-252.0 258.4,-254.2 259.1,-256.3 259.7,-258.4 260.4,-260.6 261.0,-262.7 261.7,-264.8 262.3,-266.9 263.0,-268.9 263.6,-271.0 264.3,-273.1 264.9,-275.2 265.6,-277.2 266.3,-279.3 266.9,-281.4 267.6,-283.4 268.2,-285.5 268.9,-287.5 269.5,-289.6 270.2,-291.7 270.8,-293.7 271.5,-295.8 272.1,-297.9 272.8,-299.9 273.4,-302.0 274.1,-304.1 274.8,-306.2 275.4,-308.3 276.1,-310.4 276.7,-312.5 277.4,-314.6 278.0,-316.8 278.7,-318.9 279.3,-321.1 280.0,-323.3 280.6,-325.5 281.3,-327.7 281.9,-329.9 282.6,-332.1 283.3,-334.3 283.9,-336.6 284.6,-338.8 285.2,-341.1 285.9,-343.4 286.5,-345.7 287.2,-347.9 287.8,-350.2 288.5,-352.5 289.1,-354.8 289.8,-357.1 290.5,-359.4 291.1,-361.7 291.8,-363.9 292.4,-366.2 293.1,-368.5 293.7,-370.7 294.4,-373.0 295.0,-375.2 295.7,-377.5 296.3,-379.7 297.0,-381.9 297.6,-384.1 298.3,-386.3 299.0,-388.5 299.6,-390.7 300.3,-392.9 300.9,-395.1 301.6,-397.2 302.2,-399.4 302.9,-401.6 303.5,-403.7 304.2,-405.9 304.8,-408.0 305.5,-410.2 306.1,-412.3 306.8,-414.5 306.8,-50.0" fill="#ffff00"/>
<polygon points="45.2,-50.0 45.2,-33.3 45.9,-25.5 46.5,-16.1 47.2,-5.1 47.8,3.1 48.5,9.9 49.1,17.2 49.8,26.1 50.4,32.4 51.1,38.1 51.7,43.2 52.4,47.5 53.0,50.9 53.7,53.4 54.4,55.4 55.0,57.2 55.7,58.7 56.3,60.0 57.0,61.1 57.6,62.2 58.3,63.1 58.9,64.0 59.6,64.8 60.2,65.5 60.9,66.2 61.6,66.8 62.2,67.4 62.9,67.9 63.5,68.5 64.2,69.1 64.8,69.7 65.5,70.3 66.1,70.8 66.8,71.3 67.4,71.7 68.1,72.1 68.7,72.3 69.4,72.5 70.1,72.5 70.7,72.4 71.4,72.2 72.0,71.9 72.7,71.6 73.3,71.1 74.0,70.6 74.6,70.1 75.3,69.5 75.9,68.9 76.6,68.3 77.2,67.7 77.9,67.1 78.6,66.5 79.2,65.9 79.9,65.4 80.5,64.8 81.2,64.2 81.8,63.6 82.5,63.0 83.1,62.3 83.8,61.6 84.4,60.8 85.1,60.0 85.7,59.0 86.4,58.0 87.1,57.0 87.7,55.9 88.4,54.8 89.0,53.7 89.7,52.7 90.3,51.6 91.0,50.6 91.6,49.6 92.3,48.5 92.9,47.5 93.6,46.4 94.2,45.3 94.9,44.2 95.6,43.0 96.2,41.7 96.9,40.4 97.5,39.1 98.2,37.7 98.8,36.3 99.5,34.9 100.1,33.5 100.8,32.0 101.4,30.6 102.1,29.1 102.8,27.7 103.4,26.2 104.1,24.7 104.7,23.2 105.4,21.7 106.0,20.2 106.7,18.6 107.3,17.0 108.0,15.3 108.6,13.6 109.3,11.8 109.9,10.1 110.6,8.3 111.3,6.4 111.9,4.6 112.6,2.8 113.2,0.9 113.9,-1.0 114.5,-2.8 115.2,-4.7 115.8,-6.6 116.5,-8.4 117.1,-10.2 117.8,-12.0 118.4,-13.8 119.1,-15.6 119.8,-17.3 120.4,-19.0 121.1,-20.6 121.7,-22.2 122.4,-23.7 123.0,-25.2 123.7,-26.7 124.3,-28.1 125.0,-29.5 125.6,-30.8 126.3,-32.2 127.0,-33.6 127.6,-34.9 128.3,-36.4 128.9,-37.8 129.6,-39.3 130.2,-40.8 130.9,-42.4 131.5,-43.9 132.2,-45.5 132.8,-47.1 133.5,-48.7 134.1,-50.3 134.8,-52.0 135.5,-53.6 136.1,-55.3 136.8,-57.0 137.4,-58.7 138.1,-60.4 138.7,-62.1 139.4,-63.8 140.0,-65.6 140.7,-67.4 141.3,-69.2 142.0,-71.0 142.6,-72.8 143.3,-74.6 144.0,-76.5 144.6,-78.3 145.3,-80.2 145.9,-82.1 146.6,-84.0 147.2,-86.0 147.9,-88.0 148.5,-90.0 149.2,-92.0 149.8,-94.0 150.5,-96.0 151.1,-98.1 151.8,-100.2 152.5,-102.3 153.1,-104.4 153.8,-106.6 154.4,-108.7 155.1,-110.9 155.7,-113.1 156.4,-115.3 157.0,-117.5 157.7,-119.7 158.3,-122.0 159.0,-124.2 159.7,-126.5 160.3,-128.9 161.0,-131.4 161.6,-133.8 162.3,-136.2 162.9,-138.5 163.6,-140.7 164.2,-142.9 164.9,-145.1 165.5,-147.2 166.2,-149.4 166.8,-151.5 167.5,-153.6 168.2,-155.7 168.8,-157.7 169.5,-159.8 170.1,-161.8 170.8,-163.8 171.4,-165.9 172.1,-167.9 172.7,-169.9 173.4,-171.9 174.0,-173.9 174.7,-175.9 175.3,-177.9 176.0,-179.9 176.7,-181.9 177.3,-184.0 178.0,-186.0 178.6,-188.1 179.3,-190.1 179.9,-192.2 180.6,-194.3 181.2,-196.4 181.9,-198.5 182.5,-200.7 183.2,-202.8 183.8,-205.0 184.5,-207.2 185.2,-209.4 185.8,-211.6 186.5,-213.8 187.1,-216.0 187.8,-218.2 188.4,-220.5 189.1,-222.7 189.7,-224.9 190.4,-227.2 191.0,-229.4 191.7,-231.7 192.4,-233.9 193.0,-236.2 193.7,-238.5 194.3,-240.7 195.0,-243.0 195.6,-245.3 196.3,-247.6 196.9,-249.9 197.6,-252.3 198.2,-254.6 198.9,-256.9 199.5,-259.3 200.2,-261.6 200.9,-264.0 201.5,-266.4 202.2,-268.8 202.8,-271.2 203.5,-273.6 204.1,-276.0 204.8,-278.4 205.4,-280.8 206.1,-283.3 206.7,-285.7 207.4,-288.2 208.0,-290.7 208.7,-293.2 209.4,-295.7 210.0,-298.2 210.7,-300.7 211.3,-303.2 212.0,-305.8 212.6,-308.3 213.3,-310.9 213.9,-313.5 214.6,-316.0 215.2,-318.6 215.9,-321.2 216.5,-323.8 217.2,-326.5 217.9,-329.1 218.5,-331.7 219.2,-334.4 219.8,-337.0 220.5,-339.7 221.1,-342.4 221.8,-345.1 222.4,-347.7 223.1,-350.4 223.7,-353.2 224.4,-355.9 225.1,-358.6 225.7,-361.3 226.4,-364.1 227.0,-366.9 227.7,-369.6 228.3,-372.4 229.0,-375.2 229.6,-378.0 230.3,-380.8 230.9,-383.6 231.6,-386.4 232.2,-389.2 232.9,-392.1 233.6,-394.9 234.2,-397.8 234.9,-400.6 235.5,-403.5 236.2,-406.5 236.8,-409.6 237.5,-412.7 238.1,-415.8 238.8,-418.8 239.4,-421.9 240.1,-424.8 240.7,-427.7 241.4,-430.5 242.1,-433.1 242.7,-435.7 243.4,-438.2 244.0,-440.7 244.7,-443.2 245.3,-445.7 246.0,-448.3 246.6,-451.0 247.3,-453.8 247.9,-456.6 248.6,-459.6 249.2,-462.6 249.9,-465.7 250.6,-468.8 251.2,-472.0 251.9,-475.2 252.5,-478.4 253.2,-481.7 253.8,-484.9 254.5,-488.1 255.1,-491.3 255.8,-494.5 256.4,-497.7 257.1,-500.8 257.8,-503.8 258.4,-506.9 259.1,-509.9 259.7,-512.9 260.4,-515.9 261.0,-518.8 261.7,-521.8 262.3,-524.8 263.0,-527.7 263.6,-530.7 264.3,-533.6 264.9,-536.5 265.6,-539.4 266.3,-542.4 266.9,-545.3 267.6,-548.2 268.2,-551.1 268.9,-554.0 269.5,-556.9 270.2,-559.9 270.8,-562.8 271.5,-565.7 272.1,-568.6 272.8,-571.6 273.4,-574.5 274.1,-577.4 274.8,-580.4 275.4,-583.4 276.1,-586.4 276.7,-589.4 277.4,-592.4 278.0,-595.4 278.7,-598.4 279.3,-601.5 280.0,-604.6 280.6,-607.6 281.3,-610.8 281.9,-613.9 282.6,-617.0 283.3,-620.2 283.9,-623.4 284.6,-626.6 285.2,-629.8 285.9,-633.0 286.5,-636.2 287.2,-639.4 287.8,-642.7 288.5,-645.9 289.1,-649.1 289.8,-652.4 290.5,-655.6 291.1,-658.8 291.8,-662.1 292.4,-665.3 293.1,-668.5 293.7,-671.7 294.4,-674.9 295.0,-678.1 295.7,-681.2 296.3,-684.4 297.0,-687.5 297.6,-690.6 298.3,-693.7 299.0,-696.8 299.6,-699.9 300.3,-703.0 300.9,-706.1 301.6,-709.2 302.2,-712.2 302.9,-715.3 303.5,-718.4 304.2,-721.4 304.8,-724.5 305.5,-727.5 306.1,-730.5 306.8,-733.6 306.8,-50.0" fill="#ff00ff"/>
<polyline points="45.2,300.8 45.9,301.9 46.5,303.2 47.2,304.8 47.8,305.9 48.5,306.9 49.1,307.9 49.8,309.2 50.4,310.1 51.1,310.9 51.7,311.6 52.4,312.2 53.0,312.7 53.7,313.1 54.4,313.3 55.0,313.6 55.7,313.8 56.3,314.0 57.0,314.2 57.6,314.3 58.3,314.4 58.9,314.6 59.6,314.7 60.2,314.8 60.9,314.9 61.6,315.0 62.2,315.0 62.9,315.1 63.5,315.2 64.2,315.3 64.8,315.4 65.5,315.4 66.1,315.5 66.8,315.6 67.4,315.7 68.1,315.7 68.7,315.7 69.4,315.8 70.1,315.8 70.7,315.7 71.4,315.7 72.0,315.7 72.7,315.6 73.3,315.6 74.0,315.5 74.6,315.4 75.3,315.3 75.9,315.3 76.6,315.2 77.2,315.1 77.9,315.0 78.6,314.9 79.2,314.8 79.9,314.8 80.5,314.7 81.2,314.6 81.8,314.5 82.5,314.4 83.1,314.3 83.8,314.2 84.4,314.1 85.1,314.0 85.7,313.9 86.4,313.7 87.1,313.6 87.7,313.4 88.4,313.3 89.0,313.1 89.7,313.0 90.3,312.8 91.0,312.7 91.6,312.5 92.3,312.4 92.9,312.2 93.6,312.1 94.2,311.9 94.9,311.8 95.6,311.6 96.2,311.4 96.9,311.2 97.5,311.0 98.2,310.8 98.8,310.6 99.5,310.4 100.1,310.2 100.8,310.0 101.4,309.8 102.1,309.6 102.8,309.4 103.4,309.2 104.1,309.0 104.7,308.8 105.4,308.6 106.0,308.4 106.7,308.1 107.3,307.9 108.0,307.7 108.6,307.4 109.3,307.2 109.9,306.9 110.6,306.7 111.3,306.4 111.9,306.2 112.6,305.9 113.2,305.6 113.9,305.4 114.5,305.1 115.2,304.8 115.8,304.6 116.5,304.3 117.1,304.1 117.8,303.8 118.4,303.6 119.1,303.3 119.8,303.1 120.4,302.8 121.1,302.6 121.7,302.4 122.4,302.2 123.0,301.9 123.7,301.7 124.3,301.5 125.0,301.3 125.6,301.2 126.3,301.0 127.0,300.8 127.6,300.6 128.3,300.4 128.9,300.2 129.6,300.0 130.2,299.7 130.9,299.5 131.5,299.3 132.2,299.1 132.8,298.8 133.5,298.6 134.1,298.4 134.8,298.2 135.5,297.9 136.1,297.7 136.8,297.5 137.4,297.2 138.1,297.0 138.7,296.7 139.4,296.5 140.0,296.2 140.7,296.0 141.3,295.7 142.0,295.5 142.6,295.2 143.3,295.0 144.0,294.7 144.6,294.4 145.3,294.2 145.9,293.9 146.6,293.6 147.2,293.3 147.9,293.1 148.5,292.8 149.2,292.5 149.8,292.2 150.5,291.9 151.1,291.6 151.8,291.3 152.5,291.0 153.1,290.7 153.8,290.4 154.4,290.1 155.1,289.8 155.7,289.5 156.4,289.2 157.0,288.9 157.7,288.6 158.3,288.3 159.0,287.9 159.7,287.6 160.3,287.3 161.0,286.9 161.6,286.6 162.3,286.2 162.9,285.9 163.6,285.6 164.2,285.3 164.9,285.0 165.5,284.7 166.2,284.4 166.8,284.1 167.5,283.8 168.2,283.5 168.8,283.2 169.5,282.9 170.1,282.6 170.8,282.3 171.4,282.1 172.1,281.8 172.7,281.5 173.4,281.2 174.0,280.9 174.7,280.6 175.3,280.4 176.0,280.1 176.7,279.8 177.3,279.5 178.0,279.2 178.6,278.9 179.3,278.6 179.9,278.3 180.6,278.0 181.2,277.7 181.9,277.4 182.5,277.1 183.2,276.8 183.8,276.5 184.5,276.2 185.2,275.9 185.8,275.6 186.5,275.3 187.1,275.0 187.8,274.6 188.4,274.3 189.1,274.0 189.7,273.7 190.4,273.4 191.0,273.1 191.7,272.7 192.4,272.4 193.0,272.1 193.7,271.8 194.3,271.5 195.0,271.1 195.6,270.8 196.3,270.5 196.9,270.2 197.6,269.8 198.2,269.5 198.9,269.2 199.5,268.8 200.2,268.5 200.9,268.2 201.5,267.8 202.2,267.5 202.8,267.2 203.5,266.8 204.1,266.5 204.8,266.1 205.4,265.8 206.1,265.4 206.7,265.1 207.4,264.8 208.0,264.4 208.7,264.0 209.4,263.7 210.0,263.3 210.7,263.0 211.3,262.6 212.0,262.3 212.6,261.9 213.3,261.5 213.9,261.2 214.6,260.8 215.2,260.4 215.9,260.1 216.5,259.7 217.2,259.3 217.9,259.0 218.5,258.6 219.2,258.2 219.8,257.8 220.5,257.5 221.1,257.1 221.8,256.7 222.4,256.3 223.1,256.0 223.7,255.6 224.4,255.2 225.1,254.8 225.7,254.4 226.4,254.0 227.0,253.6 227.7,253.2 228.3,252.8 229.0,252.5 229.6,252.1 230.3,251.7 230.9,251.3 231.6,250.9 232.2,250.5 232.9,250.1 233.6,249.7 234.2,249.3 234.9,248.9 235.5,248.4 236.2,248.0 236.8,247.6 237.5,247.2 238.1,246.7 238.8,246.3 239.4,245.8 240.1,245.4 240.7,245.0 241.4,244.6 242.1,244.3 242.7,243.9 243.4,243.5 244.0,243.2 244.7,242.8 245.3,242.5 246.0,242.1 246.6,241.7 247.3,241.3 247.9,240.9 248.6,240.5 249.2,240.1 249.9,239.7 250.6,239.2 251.2,238.8 251.9,238.3 252.5,237.9 253.2,237.4 253.8,236.9 254.5,236.5 255.1,236.0 255.8,235.6 256.4,235.1 257.1,234.7 257.8,234.3 258.4,233.8 259.1,233.4 259.7,233.0 260.4,232.6 261.0,232.1 261.7,231.7 262.3,231.3 263.0,230.9 263.6,230.5 264.3,230.0 264.9,229.6 265.6,229.2 266.3,228.8 266.9,228.4 267.6,228.0 268.2,227.6 268.9,227.2 269.5,226.7 270.2,226.3 270.8,225.9 271.5,225.5 272.1,225.1 272.8,224.7 273.4,224.3 274.1,223.8 274.8,223.4 275.4,223.0 276.1,222.6 276.7,222.2 277.4,221.7 278.0,221.3 278.7,220.9 279.3,220.4 280.0,220.0 280.6,219.6 281.3,219.1 281.9,218.7 282.6,218.2 283.3,217.8 283.9,217.3 284.6,216.9 285.2,216.4 285.9,216.0 286.5,215.5 287.2,215.1 287.8,214.6 288.5,214.2 289.1,213.7 289.8,213.2 290.5,212.8 291.1,212.3 291.8,211.9 292.4,211.4 293.1,211.0 293.7,210.5 294.4,210.1 295.0,209.6 295.7,209.2 296.3,208.7 297.0,208.3 297.6,207.8 298.3,207.4 299.0,207.0 299.6,206.5 300.3,206.1 300.9,205.7 301.6,205.2 302.2,204.8 302.9,204.4 303.5,203.9 304.2,203.5 304.8,203.1 305.5,202.6 306.1,202.2 306.8,201.8" fill="none" stroke="#000000" stroke-opacity="0.66" stroke-width="1.45" stroke-dasharray="3.5 3"/>
<polyline points="45.2,268.8 45.9,270.6 46.5,272.7 47.2,275.1 47.8,277.0 48.5,278.5 49.1,280.1 49.8,282.1 50.4,283.5 51.1,284.8 51.7,285.9 52.4,286.9 53.0,287.7 53.7,288.2 54.4,288.7 55.0,289.0 55.7,289.4 56.3,289.7 57.0,289.9 57.6,290.2 58.3,290.4 58.9,290.6 59.6,290.8 60.2,290.9 60.9,291.1 61.6,291.2 62.2,291.3 62.9,291.5 63.5,291.6 64.2,291.7 64.8,291.8 65.5,292.0 66.1,292.1 66.8,292.2 67.4,292.3 68.1,292.4 68.7,292.4 69.4,292.5 70.1,292.5 70.7,292.5 71.4,292.4 72.0,292.3 72.7,292.3 73.3,292.2 74.0,292.1 74.6,291.9 75.3,291.8 75.9,291.7 76.6,291.5 77.2,291.4 77.9,291.3 78.6,291.1 79.2,291.0 79.9,290.9 80.5,290.8 81.2,290.6 81.8,290.5 82.5,290.4 83.1,290.2 83.8,290.0 84.4,289.9 85.1,289.7 85.7,289.5 86.4,289.2 87.1,289.0 87.7,288.8 88.4,288.5 89.0,288.3 89.7,288.0 90.3,287.8 91.0,287.6 91.6,287.3 92.3,287.1 92.9,286.9 93.6,286.6 94.2,286.4 94.9,286.1 95.6,285.9 96.2,285.6 96.9,285.3 97.5,285.0 98.2,284.7 98.8,284.4 99.5,284.1 100.1,283.8 100.8,283.4 101.4,283.1 102.1,282.8 102.8,282.5 103.4,282.1 104.1,281.8 104.7,281.5 105.4,281.1 106.0,280.8 106.7,280.4 107.3,280.1 108.0,279.7 108.6,279.3 109.3,278.9 109.9,278.5 110.6,278.1 111.3,277.7 111.9,277.3 112.6,276.9 113.2,276.5 113.9,276.0 114.5,275.6 115.2,275.2 115.8,274.8 116.5,274.4 117.1,274.0 117.8,273.6 118.4,273.2 119.1,272.8 119.8,272.4 120.4,272.0 121.1,271.7 121.7,271.3 122.4,271.0 123.0,270.6 123.7,270.3 124.3,270.0 125.0,269.7 125.6,269.4 126.3,269.1 127.0,268.8 127.6,268.5 128.3,268.1 128.9,267.8 129.6,267.5 130.2,267.1 130.9,266.8 131.5,266.4 132.2,266.1 132.8,265.7 133.5,265.4 134.1,265.0 134.8,264.6 135.5,264.3 136.1,263.9 136.8,263.5 137.4,263.1 138.1,262.8 138.7,262.4 139.4,262.0 140.0,261.6 140.7,261.2 141.3,260.8 142.0,260.4 142.6,260.0 143.3,259.6 144.0,259.2 144.6,258.8 145.3,258.3 145.9,257.9 146.6,257.5 147.2,257.0 147.9,256.6 148.5,256.2 149.2,255.7 149.8,255.2 150.5,254.8 151.1,254.3 151.8,253.9 152.5,253.4 153.1,252.9 153.8,252.4 154.4,252.0 155.1,251.5 155.7,251.0 156.4,250.5 157.0,250.0 157.7,249.5 158.3,249.0 159.0,248.5 159.7,248.0 160.3,247.4 161.0,246.9 161.6,246.3 162.3,245.8 162.9,245.3 163.6,244.8 164.2,244.3 164.9,243.8 165.5,243.3 166.2,242.9 166.8,242.4 167.5,241.9 168.2,241.5 168.8,241.0 169.5,240.5 170.1,240.1 170.8,239.6 171.4,239.2 172.1,238.7 172.7,238.3 173.4,237.8 174.0,237.4 174.7,236.9 175.3,236.5 176.0,236.0 176.7,235.6 177.3,235.1 178.0,234.7 178.6,234.2 179.3,233.8 179.9,233.3 180.6,232.8 181.2,232.4 181.9,231.9 182.5,231.4 183.2,230.9 183.8,230.4 184.5,229.9 185.2,229.4 185.8,229.0 186.5,228.5 187.1,228.0 187.8,227.5 188.4,227.0 189.1,226.5 189.7,226.0 190.4,225.5 191.0,225.0 191.7,224.5 192.4,224.0 193.0,223.5 193.7,222.9 194.3,222.4 195.0,221.9 195.6,221.4 196.3,220.9 196.9,220.4 197.6,219.9 198.2,219.3 198.9,218.8 199.5,218.3 200.2,217.8 200.9,217.2 201.5,216.7 202.2,216.2 202.8,215.6 203.5,215.1 204.1,214.6 204.8,214.0 205.4,213.5 206.1,212.9 206.7,212.4 207.4,211.8 208.0,211.3 208.7,210.7 209.4,210.1 210.0,209.6 210.7,209.0 211.3,208.5 212.0,207.9 212.6,207.3 213.3,206.7 213.9,206.2 214.6,205.6 215.2,205.0 215.9,204.4 216.5,203.9 217.2,203.3 217.9,202.7 218.5,202.1 219.2,201.5 219.8,200.9 220.5,200.3 221.1,199.7 221.8,199.1 222.4,198.5 223.1,197.9 223.7,197.3 224.4,196.7 225.1,196.1 225.7,195.5 226.4,194.9 227.0,194.2 227.7,193.6 228.3,193.0 229.0,192.4 229.6,191.7 230.3,191.1 230.9,190.5 231.6,189.9 232.2,189.2 232.9,188.6 233.6,188.0 234.2,187.3 234.9,186.7 235.5,186.0 236.2,185.4 236.8,184.7 237.5,184.0 238.1,183.3 238.8,182.6 239.4,181.9 240.1,181.3 240.7,180.6 241.4,180.0 242.1,179.4 242.7,178.8 243.4,178.3 244.0,177.7 244.7,177.2 245.3,176.6 246.0,176.0 246.6,175.4 247.3,174.8 247.9,174.2 248.6,173.5 249.2,172.8 249.9,172.1 250.6,171.4 251.2,170.7 251.9,170.0 252.5,169.3 253.2,168.6 253.8,167.8 254.5,167.1 255.1,166.4 255.8,165.7 256.4,165.0 257.1,164.3 257.8,163.6 258.4,162.9 259.1,162.3 259.7,161.6 260.4,160.9 261.0,160.2 261.7,159.6 262.3,158.9 263.0,158.3 263.6,157.6 264.3,157.0 264.9,156.3 265.6,155.6 266.3,155.0 266.9,154.3 267.6,153.7 268.2,153.0 268.9,152.4 269.5,151.7 270.2,151.1 270.8,150.4 271.5,149.8 272.1,149.1 272.8,148.5 273.4,147.8 274.1,147.1 274.8,146.5 275.4,145.8 276.1,145.2 276.7,144.5 277.4,143.8 278.0,143.1 278.7,142.5 279.3,141.8 280.0,141.1 280.6,140.4 281.3,139.7 281.9,139.0 282.6,138.3 283.3,137.6 283.9,136.9 284.6,136.2 285.2,135.4 285.9,134.7 286.5,134.0 287.2,133.3 287.8,132.6 288.5,131.8 289.1,131.1 289.8,130.4 290.5,129.7 291.1,128.9 291.8,128.2 292.4,127.5 293.1,126.8 293.7,126.1 294.4,125.4 295.0,124.6 295.7,123.9 296.3,123.2 297.0,122.5 297.6,121.8 298.3,121.1 299.0,120.5 299.6,119.8 300.3,119.1 300.9,118.4 301.6,117.7 302.2,117.0 302.9,116.3 303.5,115.6 304.2,115.0 304.8,114.3 305.5,113.6 306.1,112.9 306.8,112.2" fill="none" stroke="#000000" stroke-opacity="0.66" stroke-width="1.45" stroke-dasharray="3.5 3"/>
<polyline points="45.2,232.8 45.9,235.2 46.5,238.2 47.2,241.7 47.8,244.3 48.3,246.4 48.8,248.7 49.3,251.6 49.8,253.6 50.2,255.4 50.7,257.0 51.2,258.3 51.7,259.4 52.1,260.2 52.6,260.8 53.1,261.4 53.6,261.9 54.1,262.3 54.8,262.6 55.4,263.0 56.1,263.3 56.7,263.6 57.4,263.8 58.0,264.0 58.7,264.2 59.4,264.4 60.0,264.6 60.7,264.8 61.3,265.0 62.0,265.2 62.6,265.3 63.3,265.5 63.9,265.7 64.6,265.9 65.2,266.0 65.9,266.1 66.5,266.2 67.2,266.2 67.9,266.2 68.5,266.2 69.2,266.1 69.8,266.1 70.5,265.9 71.1,265.8 71.8,265.6 72.4,265.5 73.1,265.3 73.8,265.1 74.5,264.9 75.2,264.7 75.9,264.5 76.6,264.3 77.3,264.1 78.0,264.0 78.7,263.8 79.4,263.6 80.1,263.4 80.7,263.2 81.4,263.0 82.1,262.8 82.8,262.5 83.5,262.3 84.2,262.0 84.9,261.7 85.6,261.3 86.3,261.0 87.0,260.6 87.7,260.3 88.4,260.0 89.1,259.6 89.8,259.3 90.5,259.0 91.2,258.7 91.9,258.3 92.6,258.0 93.3,257.6 94.0,257.3 94.7,256.9 95.3,256.5 96.0,256.1 96.7,255.7 97.4,255.2 98.1,254.8 98.8,254.4 99.5,253.9 100.2,253.4 100.9,253.0 101.6,252.5 102.3,252.1 103.0,251.6 103.7,251.1 104.4,250.7 105.1,250.2 105.8,249.7 106.5,249.2 107.2,248.7 107.9,248.1 108.6,247.6 109.2,247.1 109.9,246.5 110.6,245.9 111.3,245.3 111.9,244.8 112.6,244.2 113.2,243.6 113.9,243.0 114.5,242.4 115.2,241.8 115.8,241.2 116.5,240.7 117.1,240.1 117.8,239.5 118.4,238.9 119.1,238.4 119.8,237.8 120.4,237.3 121.1,236.8 121.7,236.3 122.4,235.8 123.0,235.3 123.7,234.9 124.3,234.4 125.0,234.0 125.6,233.6 126.3,233.1 127.0,232.7 127.6,232.3 128.3,231.8 128.9,231.4 129.6,230.9 130.2,230.4 130.9,229.9 131.5,229.4 132.2,228.9 132.8,228.4 133.5,227.9 134.1,227.4 134.8,226.9 135.5,226.4 136.1,225.8 136.8,225.3 137.4,224.8 138.1,224.2 138.7,223.7 139.4,223.1 140.0,222.6 140.7,222.0 141.3,221.4 142.0,220.9 142.6,220.3 143.3,219.7 144.0,219.1 144.6,218.5 145.3,217.9 145.9,217.3 146.6,216.7 147.2,216.1 147.9,215.5 148.5,214.9 149.2,214.2 149.8,213.6 150.5,212.9 151.1,212.3 151.8,211.6 152.5,211.0 153.1,210.3 153.8,209.6 154.4,208.9 155.1,208.2 155.7,207.5 156.4,206.9 157.0,206.1 157.7,205.4 158.3,204.7 159.0,204.0 159.7,203.3 160.3,202.5 161.0,201.8 161.6,201.0 162.3,200.2 162.9,199.5 163.6,198.8 164.2,198.1 164.9,197.4 165.5,196.7 166.2,196.1 166.8,195.4 167.5,194.7 168.2,194.1 168.8,193.4 169.5,192.8 170.1,192.1 170.8,191.5 171.4,190.9 172.1,190.2 172.7,189.6 173.4,189.0 174.0,188.3 174.7,187.7 175.3,187.0 176.0,186.4 176.7,185.8 177.3,185.1 178.0,184.5 178.6,183.8 179.3,183.2 179.9,182.5 180.6,181.9 181.2,181.2 181.9,180.5 182.5,179.9 183.2,179.2 183.8,178.5 184.5,177.8 185.2,177.1 185.8,176.4 186.5,175.7 187.1,175.0 187.8,174.3 188.4,173.6 189.1,172.9 189.7,172.2 190.4,171.5 191.0,170.8 191.7,170.1 192.4,169.3 193.0,168.6 193.7,167.9 194.3,167.2 195.0,166.5 195.6,165.7 196.3,165.0 196.9,164.3 197.6,163.5 198.2,162.8 198.9,162.1 199.5,161.3 200.2,160.6 200.9,159.8 201.5,159.1 202.2,158.3 202.8,157.6 203.5,156.8 204.1,156.0 204.8,155.3 205.4,154.5 206.1,153.7 206.7,152.9 207.4,152.2 208.0,151.4 208.7,150.6 209.4,149.8 210.0,149.0 210.7,148.2 211.3,147.4 212.0,146.6 212.6,145.8 213.3,145.0 213.9,144.2 214.6,143.4 215.2,142.5 215.9,141.7 216.5,140.9 217.2,140.1 217.9,139.2 218.5,138.4 219.2,137.6 219.8,136.7 220.5,135.9 221.1,135.0 221.8,134.2 222.4,133.3 223.1,132.5 223.7,131.6 224.4,130.8 225.1,129.9 225.7,129.0 226.4,128.2 227.0,127.3 227.7,126.4 228.3,125.5 229.0,124.7 229.6,123.8 230.3,122.9 230.9,122.0 231.6,121.1 232.2,120.2 232.9,119.3 233.6,118.4 234.2,117.5 234.9,116.6 235.5,115.7 236.2,114.8 236.8,113.8 237.5,112.8 238.1,111.8 238.8,110.9 239.4,109.9 240.1,109.0 240.7,108.1 241.4,107.2 242.1,106.3 242.7,105.5 243.4,104.7 244.0,103.9 244.7,103.2 245.3,102.4 246.0,101.5 246.6,100.7 247.3,99.8 247.9,98.9 248.6,98.0 249.2,97.0 249.9,96.0 250.6,95.1 251.2,94.0 251.9,93.0 252.5,92.0 253.2,91.0 253.8,90.0 254.5,89.0 255.1,87.9 255.8,86.9 256.4,85.9 257.1,85.0 257.8,84.0 258.4,83.0 259.1,82.1 259.7,81.1 260.4,80.2 261.0,79.2 261.7,78.3 262.3,77.4 263.0,76.4 263.6,75.5 264.3,74.6 264.9,73.6 265.6,72.7 266.3,71.8 266.9,70.9 267.6,70.0 268.2,69.0 268.9,68.1 269.5,67.2 270.2,66.3 270.8,65.3 271.5,64.4 272.1,63.5 272.8,62.6 273.4,61.6 274.1,60.7 274.8,59.8 275.4,58.8 276.1,57.9 276.7,56.9 277.4,56.0 278.0,55.0 278.7,54.1 279.3,53.1 280.0,52.1 280.6,51.2 281.3,50.2 281.9,49.2 282.6,48.2 283.3,47.2 283.9,46.2 284.6,45.2 285.2,44.2 285.9,43.1 286.5,42.1 287.2,41.1 287.8,40.1 288.5,39.1 289.1,38.0 289.8,37.0 290.5,36.0 291.1,35.0 291.8,33.9 292.4,32.9 293.1,31.9 293.7,30.9 294.4,29.9 295.0,28.9 295.7,27.9 296.3,26.9 297.0,25.9 297.6,24.9 298.3,23.9 299.0,23.0 299.6,22.0 300.3,21.0 300.9,20.0 301.6,19.1 302.2,18.1 302.9,17.1 303.5,16.1 304.2,15.2 304.8,14.2 305.5,13.3 306.1,12.3 306.8,11.3" fill="none" stroke="#000000" stroke-opacity="0.66" stroke-width="1.45" stroke-dasharray="3.5 3"/>
<polyline points="45.2,143.5 45.9,147.8 46.5,152.9 47.2,159.0 47.8,163.4 48.5,167.1 49.1,171.1 49.8,175.9 50.4,179.4 51.1,182.5 51.7,185.3 52.4,187.6 53.0,189.5 53.7,190.9 54.4,191.9 55.0,192.9 55.7,193.7 56.3,194.4 57.0,195.1 57.6,195.6 58.3,196.2 58.9,196.6 59.6,197.1 60.2,197.5 60.9,197.8 61.6,198.2 62.2,198.5 62.9,198.8 63.5,199.1 64.2,199.4 64.8,199.7 65.5,200.0 66.1,200.3 66.8,200.6 67.4,200.8 68.1,201.0 68.7,201.2 69.4,201.3 70.1,201.3 70.7,201.2 71.4,201.1 72.0,200.9 72.7,200.7 73.3,200.5 74.0,200.2 74.6,200.0 75.3,199.6 75.9,199.3 76.6,199.0 77.2,198.6 77.9,198.3 78.6,198.0 79.2,197.7 79.9,197.4 80.5,197.1 81.2,196.8 81.8,196.4 82.5,196.1 83.1,195.7 83.8,195.3 84.4,194.9 85.1,194.4 85.7,193.9 86.4,193.4 87.1,192.8 87.7,192.2 88.4,191.6 89.0,191.0 89.7,190.4 90.3,189.9 91.0,189.3 91.6,188.7 92.3,188.2 92.9,187.6 93.6,187.0 94.2,186.4 94.9,185.8 95.6,185.2 96.2,184.5 96.9,183.8 97.5,183.0 98.2,182.3 98.8,181.5 99.5,180.8 100.1,180.0 100.8,179.2 101.4,178.4 102.1,177.6 102.8,176.8 103.4,176.0 104.1,175.2 104.7,174.4 105.4,173.6 106.0,172.7 106.7,171.9 107.3,171.0 108.0,170.1 108.6,169.1 109.3,168.2 109.9,167.2 110.6,166.2 111.3,165.2 111.9,164.2 112.6,163.2 113.2,162.2 113.9,161.2 114.5,160.2 115.2,159.2 115.8,158.1 116.5,157.1 117.1,156.1 117.8,155.2 118.4,154.2 119.1,153.2 119.8,152.3 120.4,151.4 121.1,150.5 121.7,149.6 122.4,148.8 123.0,148.0 123.7,147.2 124.3,146.4 125.0,145.6 125.6,144.9 126.3,144.2 127.0,143.4 127.6,142.7 128.3,141.9 128.9,141.1 129.6,140.3 130.2,139.5 130.9,138.6 131.5,137.8 132.2,136.9 132.8,136.0 133.5,135.1 134.1,134.3 134.8,133.4 135.5,132.5 136.1,131.6 136.8,130.6 137.4,129.7 138.1,128.8 138.7,127.8 139.4,126.9 140.0,125.9 140.7,125.0 141.3,124.0 142.0,123.0 142.6,122.0 143.3,121.0 144.0,120.0 144.6,119.0 145.3,118.0 145.9,116.9 146.6,115.9 147.2,114.8 147.9,113.7 148.5,112.6 149.2,111.5 149.8,110.4 150.5,109.3 151.1,108.2 151.8,107.1 152.5,105.9 153.1,104.7 153.8,103.6 154.4,102.4 155.1,101.2 155.7,100.0 156.4,98.8 157.0,97.6 157.7,96.4 158.3,95.2 159.0,93.9 159.7,92.7 160.3,91.4 161.0,90.0 161.6,88.7 162.3,87.4 162.9,86.2 163.6,85.0 164.2,83.8 164.9,82.6 165.5,81.4 166.2,80.2 166.8,79.1 167.5,77.9 168.2,76.8 168.8,75.7 169.5,74.6 170.1,73.4 170.8,72.3 171.4,71.2 172.1,70.1 172.7,69.0 173.4,67.9 174.0,66.8 174.7,65.8 175.3,64.7 176.0,63.6 176.7,62.5 177.3,61.4 178.0,60.2 178.6,59.1 179.3,58.0 179.9,56.9 180.6,55.7 181.2,54.6 181.9,53.4 182.5,52.3 183.2,51.1 183.8,49.9 184.5,48.7 185.2,47.5 185.8,46.3 186.5,45.1 187.1,43.9 187.8,42.7 188.4,41.4 189.1,40.2 189.7,39.0 190.4,37.8 191.0,36.6 191.7,35.3 192.4,34.1 193.0,32.9 193.7,31.6 194.3,30.4 195.0,29.1 195.6,27.9 196.3,26.6 196.9,25.4 197.6,24.1 198.2,22.8 198.9,21.5 199.5,20.3 200.2,19.0 200.9,17.7 201.5,16.4 202.2,15.1 202.8,13.8 203.5,12.5 204.1,11.2 204.8,9.8 205.4,8.5 206.1,7.2 206.7,5.8 207.4,4.5 208.0,3.1 208.7,1.8 209.4,0.4 210.0,-1.0 210.7,-2.3 211.3,-3.7 212.0,-5.1 212.6,-6.5 213.3,-7.9 213.9,-9.3 214.6,-10.7 215.2,-12.1 215.9,-13.5 216.5,-15.0 217.2,-16.4 217.9,-17.8 218.5,-19.3 219.2,-20.7 219.8,-22.1 220.5,-23.6 221.1,-25.1 221.8,-26.5 222.4,-28.0 223.1,-29.5 223.7,-30.9 224.4,-32.4 225.1,-33.9 225.7,-35.4 226.4,-36.9 227.0,-38.4 227.7,-39.9 228.3,-41.4 229.0,-43.0 229.6,-44.5 230.3,-46.0 230.9,-47.5 231.6,-49.1 232.2,-50.6 232.9,-52.2 233.6,-53.7 234.2,-55.3 234.9,-56.8 235.5,-58.4 236.2,-60.1 236.8,-61.7 237.5,-63.4 238.1,-65.1 238.8,-66.8 239.4,-68.4 240.1,-70.0 240.7,-71.6 241.4,-73.1 242.1,-74.6 242.7,-76.0 243.4,-77.3 244.0,-78.7 244.7,-80.1 245.3,-81.4 246.0,-82.9 246.6,-84.3 247.3,-85.8 247.9,-87.4 248.6,-89.0 249.2,-90.7 249.9,-92.3 250.6,-94.0 251.2,-95.8 251.9,-97.5 252.5,-99.3 253.2,-101.0 253.8,-102.8 254.5,-104.6 255.1,-106.3 255.8,-108.1 256.4,-109.8 257.1,-111.5 257.8,-113.1 258.4,-114.8 259.1,-116.4 259.7,-118.1 260.4,-119.7 261.0,-121.3 261.7,-123.0 262.3,-124.6 263.0,-126.2 263.6,-127.8 264.3,-129.4 264.9,-131.0 265.6,-132.6 266.3,-134.2 266.9,-135.8 267.6,-137.3 268.2,-138.9 268.9,-140.5 269.5,-142.1 270.2,-143.7 270.8,-145.3 271.5,-146.9 272.1,-148.5 272.8,-150.1 273.4,-151.7 274.1,-153.3 274.8,-154.9 275.4,-156.5 276.1,-158.2 276.7,-159.8 277.4,-161.4 278.0,-163.1 278.7,-164.7 279.3,-166.4 280.0,-168.1 280.6,-169.8 281.3,-171.5 281.9,-173.2 282.6,-174.9 283.3,-176.6 283.9,-178.4 284.6,-180.1 285.2,-181.9 285.9,-183.6 286.5,-185.4 287.2,-187.1 287.8,-188.9 288.5,-190.7 289.1,-192.4 289.8,-194.2 290.5,-195.9 291.1,-197.7 291.8,-199.5 292.4,-201.2 293.1,-203.0 293.7,-204.7 294.4,-206.5 295.0,-208.2 295.7,-209.9 296.3,-211.6 297.0,-213.3 297.6,-215.0 298.3,-216.7 299.0,-218.4 299.6,-220.1 300.3,-221.8 300.9,-223.5 301.6,-225.2 302.2,-226.8 302.9,-228.5 303.5,-230.2 304.2,-231.8 304.8,-233.5 305.5,-235.2 306.1,-236.8 306.8,-238.5" fill="none" stroke="#000000" stroke-opacity="0.66" stroke-width="1.45" stroke-dasharray="3.5 3"/>
<polyline points="45.2,80.6 45.9,86.2 46.5,92.8 47.2,100.6 47.8,106.4 48.5,111.2 49.1,116.4 49.8,122.7 50.4,127.2 51.1,131.2 51.7,134.7 52.4,137.8 53.0,140.2 53.7,142.0 54.4,143.4 55.0,144.6 55.7,145.7 56.3,146.6 57.0,147.5 57.6,148.2 58.3,148.9 58.9,149.5 59.6,150.0 60.2,150.6 60.9,151.0 61.6,151.5 62.2,151.9 62.9,152.3 63.5,152.7 64.2,153.1 64.8,153.5 65.5,153.9 66.1,154.3 66.8,154.6 67.4,154.9 68.1,155.2 68.7,155.4 69.4,155.5 70.1,155.5 70.7,155.4 71.4,155.3 72.0,155.1 72.7,154.8 73.3,154.5 74.0,154.2 74.6,153.8 75.3,153.4 75.9,153.0 76.6,152.5 77.2,152.1 77.9,151.6 78.6,151.2 79.2,150.8 79.9,150.4 80.5,150.0 81.2,149.6 81.8,149.2 82.5,148.8 83.1,148.3 83.8,147.8 84.4,147.2 85.1,146.6 85.7,146.0 86.4,145.3 87.1,144.5 87.7,143.8 88.4,143.0 89.0,142.2 89.7,141.5 90.3,140.7 91.0,140.0 91.6,139.3 92.3,138.5 92.9,137.8 93.6,137.0 94.2,136.3 94.9,135.4 95.6,134.6 96.2,133.7 96.9,132.8 97.5,131.9 98.2,130.9 98.8,129.9 99.5,128.9 100.1,127.9 100.8,126.9 101.4,125.8 102.1,124.8 102.8,123.8 103.4,122.7 104.1,121.7 104.7,120.7 105.4,119.6 106.0,118.5 106.7,117.4 107.3,116.2 108.0,115.0 108.6,113.8 109.3,112.6 109.9,111.3 110.6,110.1 111.3,108.8 111.9,107.5 112.6,106.2 113.2,104.9 113.9,103.5 114.5,102.2 115.2,100.9 115.8,99.6 116.5,98.3 117.1,97.0 117.8,95.7 118.4,94.5 119.1,93.2 119.8,92.0 120.4,90.8 121.1,89.7 121.7,88.5 122.4,87.4 123.0,86.4 123.7,85.4 124.3,84.4 125.0,83.4 125.6,82.4 126.3,81.5 127.0,80.5 127.6,79.5 128.3,78.5 128.9,77.5 129.6,76.4 130.2,75.4 130.9,74.3 131.5,73.2 132.2,72.0 132.8,70.9 133.5,69.8 134.1,68.6 134.8,67.5 135.5,66.3 136.1,65.1 136.8,63.9 137.4,62.7 138.1,61.5 138.7,60.3 139.4,59.1 140.0,57.8 140.7,56.6 141.3,55.3 142.0,54.0 142.6,52.8 143.3,51.5 144.0,50.2 144.6,48.8 145.3,47.5 145.9,46.2 146.6,44.8 147.2,43.4 147.9,42.0 148.5,40.6 149.2,39.2 149.8,37.8 150.5,36.3 151.1,34.8 151.8,33.4 152.5,31.9 153.1,30.4 153.8,28.9 154.4,27.3 155.1,25.8 155.7,24.3 156.4,22.7 157.0,21.1 157.7,19.6 158.3,18.0 159.0,16.4 159.7,14.7 160.3,13.0 161.0,11.3 161.6,9.6 162.3,7.9 162.9,6.3 163.6,4.7 164.2,3.2 164.9,1.6 165.5,0.1 166.2,-1.4 166.8,-2.9 167.5,-4.4 168.2,-5.8 168.8,-7.3 169.5,-8.8 170.1,-10.2 170.8,-11.6 171.4,-13.1 172.1,-14.5 172.7,-15.9 173.4,-17.3 174.0,-18.7 174.7,-20.2 175.3,-21.6 176.0,-23.0 176.7,-24.4 177.3,-25.9 178.0,-27.3 178.6,-28.8 179.3,-30.2 179.9,-31.7 180.6,-33.2 181.2,-34.6 181.9,-36.1 182.5,-37.7 183.2,-39.2 183.8,-40.7 184.5,-42.3 185.2,-43.8 185.8,-45.4 186.5,-47.0 187.1,-48.5 187.8,-50.1 188.4,-51.7 189.1,-53.2 189.7,-54.8 190.4,-56.4 191.0,-58.0 191.7,-59.6 192.4,-61.2 193.0,-62.8 193.7,-64.4 194.3,-66.0 195.0,-67.6 195.6,-69.3 196.3,-70.9 196.9,-72.5 197.6,-74.2 198.2,-75.8 198.9,-77.5 199.5,-79.1 200.2,-80.8 200.9,-82.5 201.5,-84.1 202.2,-85.8 202.8,-87.5 203.5,-89.2 204.1,-90.9 204.8,-92.6 205.4,-94.4 206.1,-96.1 206.7,-97.8 207.4,-99.6 208.0,-101.3 208.7,-103.1 209.4,-104.9 210.0,-106.6 210.7,-108.4 211.3,-110.2 212.0,-112.0 212.6,-113.8 213.3,-115.6 213.9,-117.4 214.6,-119.3 215.2,-121.1 215.9,-122.9 216.5,-124.8 217.2,-126.6 217.9,-128.5 218.5,-130.3 219.2,-132.2 219.8,-134.1 220.5,-136.0 221.1,-137.9 221.8,-139.8 222.4,-141.7 223.1,-143.6 223.7,-145.5 224.4,-147.4 225.1,-149.4 225.7,-151.3 226.4,-153.2 227.0,-155.2 227.7,-157.1 228.3,-159.1 229.0,-161.1 229.6,-163.0 230.3,-165.0 230.9,-167.0 231.6,-169.0 232.2,-171.0 232.9,-173.0 233.6,-175.0 234.2,-177.0 234.9,-179.1 235.5,-181.1 236.2,-183.2 236.8,-185.4 237.5,-187.6 238.1,-189.8 238.8,-191.9 239.4,-194.1 240.1,-196.2 240.7,-198.2 241.4,-200.2 242.1,-202.0 242.7,-203.9 243.4,-205.6 244.0,-207.4 244.7,-209.2 245.3,-211.0 246.0,-212.8 246.6,-214.7 247.3,-216.6 247.9,-218.7 248.6,-220.8 249.2,-222.9 249.9,-225.1 250.6,-227.3 251.2,-229.5 251.9,-231.8 252.5,-234.1 253.2,-236.4 253.8,-238.6 254.5,-240.9 255.1,-243.2 255.8,-245.5 256.4,-247.7 257.1,-249.9 257.8,-252.0 258.4,-254.2 259.1,-256.3 259.7,-258.4 260.4,-260.6 261.0,-262.7 261.7,-264.8 262.3,-266.9 263.0,-268.9 263.6,-271.0 264.3,-273.1 264.9,-275.2 265.6,-277.2 266.3,-279.3 266.9,-281.4 267.6,-283.4 268.2,-285.5 268.9,-287.5 269.5,-289.6 270.2,-291.7 270.8,-293.7 271.5,-295.8 272.1,-297.9 272.8,-299.9 273.4,-302.0 274.1,-304.1 274.8,-306.2 275.4,-308.3 276.1,-310.4 276.7,-312.5 277.4,-314.6 278.0,-316.8 278.7,-318.9 279.3,-321.1 280.0,-323.3 280.6,-325.5 281.3,-327.7 281.9,-329.9 282.6,-332.1 283.3,-334.3 283.9,-336.6 284.6,-338.8 285.2,-341.1 285.9,-343.4 286.5,-345.7 287.2,-347.9 287.8,-350.2 288.5,-352.5 289.1,-354.8 289.8,-357.1 290.5,-359.4 291.1,-361.7 291.8,-363.9 292.4,-366.2 293.1,-368.5 293.7,-370.7 294.4,-373.0 295.0,-375.2 295.7,-377.5 296.3,-379.7 297.0,-381.9 297.6,-384.1 298.3,-386.3 299.0,-388.5 299.6,-390.7 300.3,-392.9 300.9,-395.1 301.6,-397.2 302.2,-399.4 302.9,-401.6 303.5,-403.7 304.2,-405.9 304.8,-408.0 305.5,-410.2 306.1,-412.3 306.8,-414.5" fill="none" stroke="#000000" stroke-opacity="0.66" stroke-width="1.45" stroke-dasharray="3.5 3"/>
<polyline points="45.2,-33.3 45.9,-25.5 46.5,-16.1 47.2,-5.1 47.8,3.1 48.5,9.9 49.1,17.2 49.8,26.1 50.4,32.4 51.1,38.1 51.7,43.2 52.4,47.5 53.0,50.9 53.7,53.4 54.4,55.4 55.0,57.2 55.7,58.7 56.3,60.0 57.0,61.1 57.6,62.2 58.3,63.1 58.9,64.0 59.6,64.8 60.2,65.5 60.9,66.2 61.6,66.8 62.2,67.4 62.9,67.9 63.5,68.5 64.2,69.1 64.8,69.7 65.5,70.3 66.1,70.8 66.8,71.3 67.4,71.7 68.1,72.1 68.7,72.3 69.4,72.5 70.1,72.5 70.7,72.4 71.4,72.2 72.0,71.9 72.7,71.6 73.3,71.1 74.0,70.6 74.6,70.1 75.3,69.5 75.9,68.9 76.6,68.3 77.2,67.7 77.9,67.1 78.6,66.5 79.2,65.9 79.9,65.4 80.5,64.8 81.2,64.2 81.8,63.6 82.5,63.0 83.1,62.3 83.8,61.6 84.4,60.8 85.1,60.0 85.7,59.0 86.4,58.0 87.1,57.0 87.7,55.9 88.4,54.8 89.0,53.7 89.7,52.7 90.3,51.6 91.0,50.6 91.6,49.6 92.3,48.5 92.9,47.5 93.6,46.4 94.2,45.3 94.9,44.2 95.6,43.0 96.2,41.7 96.9,40.4 97.5,39.1 98.2,37.7 98.8,36.3 99.5,34.9 100.1,33.5 100.8,32.0 101.4,30.6 102.1,29.1 102.8,27.7 103.4,26.2 104.1,24.7 104.7,23.2 105.4,21.7 106.0,20.2 106.7,18.6 107.3,17.0 108.0,15.3 108.6,13.6 109.3,11.8 109.9,10.1 110.6,8.3 111.3,6.4 111.9,4.6 112.6,2.8 113.2,0.9 113.9,-1.0 114.5,-2.8 115.2,-4.7 115.8,-6.6 116.5,-8.4 117.1,-10.2 117.8,-12.0 118.4,-13.8 119.1,-15.6 119.8,-17.3 120.4,-19.0 121.1,-20.6 121.7,-22.2 122.4,-23.7 123.0,-25.2 123.7,-26.7 124.3,-28.1 125.0,-29.5 125.6,-30.8 126.3,-32.2 127.0,-33.6 127.6,-34.9 128.3,-36.4 128.9,-37.8 129.6,-39.3 130.2,-40.8 130.9,-42.4 131.5,-43.9 132.2,-45.5 132.8,-47.1 133.5,-48.7 134.1,-50.3 134.8,-52.0 135.5,-53.6 136.1,-55.3 136.8,-57.0 137.4,-58.7 138.1,-60.4 138.7,-62.1 139.4,-63.8 140.0,-65.6 140.7,-67.4 141.3,-69.2 142.0,-71.0 142.6,-72.8 143.3,-74.6 144.0,-76.5 144.6,-78.3 145.3,-80.2 145.9,-82.1 146.6,-84.0 147.2,-86.0 147.9,-88.0 148.5,-90.0 149.2,-92.0 149.8,-94.0 150.5,-96.0 151.1,-98.1 151.8,-100.2 152.5,-102.3 153.1,-104.4 153.8,-106.6 154.4,-108.7 155.1,-110.9 155.7,-113.1 156.4,-115.3 157.0,-117.5 157.7,-119.7 158.3,-122.0 159.0,-124.2 159.7,-126.5 160.3,-128.9 161.0,-131.4 161.6,-133.8 162.3,-136.2 162.9,-138.5 163.6,-140.7 164.2,-142.9 164.9,-145.1 165.5,-147.2 166.2,-149.4 166.8,-151.5 167.5,-153.6 168.2,-155.7 168.8,-157.7 169.5,-159.8 170.1,-161.8 170.8,-163.8 171.4,-165.9 172.1,-167.9 172.7,-169.9 173.4,-171.9 174.0,-173.9 174.7,-175.9 175.3,-177.9 176.0,-179.9 176.7,-181.9 177.3,-184.0 178.0,-186.0 178.6,-188.1 179.3,-190.1 179.9,-192.2 180.6,-194.3 181.2,-196.4 181.9,-198.5 182.5,-200.7 183.2,-202.8 183.8,-205.0 184.5,-207.2 185.2,-209.4 185.8,-211.6 186.5,-213.8 187.1,-216.0 187.8,-218.2 188.4,-220.5 189.1,-222.7 189.7,-224.9 190.4,-227.2 191.0,-229.4 191.7,-231.7 192.4,-233.9 193.0,-236.2 193.7,-238.5 194.3,-240.7 195.0,-243.0 195.6,-245.3 196.3,-247.6 196.9,-249.9 197.6,-252.3 198.2,-254.6 198.9,-256.9 199.5,-259.3 200.2,-261.6 200.9,-264.0 201.5,-266.4 202.2,-268.8 202.8,-271.2 203.5,-273.6 204.1,-276.0 204.8,-278.4 205.4,-280.8 206.1,-283.3 206.7,-285.7 207.4,-288.2 208.0,-290.7 208.7,-293.2 209.4,-295.7 210.0,-298.2 210.7,-300.7 211.3,-303.2 212.0,-305.8 212.6,-308.3 213.3,-310.9 213.9,-313.5 214.6,-316.0 215.2,-318.6 215.9,-321.2 216.5,-323.8 217.2,-326.5 217.9,-329.1 218.5,-331.7 219.2,-334.4 219.8,-337.0 220.5,-339.7 221.1,-342.4 221.8,-345.1 222.4,-347.7 223.1,-350.4 223.7,-353.2 224.4,-355.9 225.1,-358.6 225.7,-361.3 226.4,-364.1 227.0,-366.9 227.7,-369.6 228.3,-372.4 229.0,-375.2 229.6,-378.0 230.3,-380.8 230.9,-383.6 231.6,-386.4 232.2,-389.2 232.9,-392.1 233.6,-394.9 234.2,-397.8 234.9,-400.6 235.5,-403.5 236.2,-406.5 236.8,-409.6 237.5,-412.7 238.1,-415.8 238.8,-418.8 239.4,-421.9 240.1,-424.8 240.7,-427.7 241.4,-430.5 242.1,-433.1 242.7,-435.7 243.4,-438.2 244.0,-440.7 244.7,-443.2 245.3,-445.7 246.0,-448.3 246.6,-451.0 247.3,-453.8 247.9,-456.6 248.6,-459.6 249.2,-462.6 249.9,-465.7 250.6,-468.8 251.2,-472.0 251.9,-475.2 252.5,-478.4 253.2,-481.7 253.8,-484.9 254.5,-488.1 255.1,-491.3 255.8,-494.5 256.4,-497.7 257.1,-500.8 257.8,-503.8 258.4,-506.9 259.1,-509.9 259.7,-512.9 260.4,-515.9 261.0,-518.8 261.7,-521.8 262.3,-524.8 263.0,-527.7 263.6,-530.7 264.3,-533.6 264.9,-536.5 265.6,-539.4 266.3,-542.4 266.9,-545.3 267.6,-548.2 268.2,-551.1 268.9,-554.0 269.5,-556.9 270.2,-559.9 270.8,-562.8 271.5,-565.7 272.1,-568.6 272.8,-571.6 273.4,-574.5 274.1,-577.4 274.8,-580.4 275.4,-583.4 276.1,-586.4 276.7,-589.4 277.4,-592.4 278.0,-595.4 278.7,-598.4 279.3,-601.5 280.0,-604.6 280.6,-607.6 281.3,-610.8 281.9,-613.9 282.6,-617.0 283.3,-620.2 283.9,-623.4 284.6,-626.6 285.2,-629.8 285.9,-633.0 286.5,-636.2 287.2,-639.4 287.8,-642.7 288.5,-645.9 289.1,-649.1 289.8,-652.4 290.5,-655.6 291.1,-658.8 291.8,-662.1 292.4,-665.3 293.1,-668.5 293.7,-671.7 294.4,-674.9 295.0,-678.1 295.7,-681.2 296.3,-684.4 297.0,-687.5 297.6,-690.6 298.3,-693.7 299.0,-696.8 299.6,-699.9 300.3,-703.0 300.9,-706.1 301.6,-709.2 302.2,-712.2 302.9,-715.3 303.5,-718.4 304.2,-721.4 304.8,-724.5 305.5,-727.5 306.1,-730.5 306.8,-733.6" fill="none" stroke="#000000" stroke-opacity="0.66" stroke-width="1.45" stroke-dasharray="3.5 3"/>
<polygon points="40.2,-50.0 40.2,243.0 45.2,243.0 47.0,243.0 47.4,150.0 47.6,128.0 47.9,150.0 48.4,178.0 48.9,150.0 49.6,117.0 50.4,112.0 51.2,118.0 52.3,150.0 52.9,180.0 53.3,196.0 53.8,150.0 54.4,134.0 54.9,150.0 55.2,172.0 55.7,135.0 56.0,121.0 56.6,121.0 57.0,150.0 57.7,196.0 58.4,165.0 59.2,148.0 60.0,143.0 60.8,150.0 61.6,175.0 62.2,206.0 62.8,170.0 63.5,150.0 64.1,146.0 64.6,160.0 65.2,235.0 65.7,170.0 66.5,150.0 67.1,165.0 67.6,190.0 68.2,155.0 68.8,146.0 69.5,160.0 70.2,186.0 70.8,170.0 71.1,83.0 71.7,83.0 73.4,109.0 74.6,160.0 75.2,184.0 76.0,150.0 77.0,188.0 78.0,146.0 79.0,172.0 80.0,148.0 81.0,165.0 82.4,116.0 83.0,52.4 83.8,52.4 84.6,104.0 86.2,150.0 87.6,172.0 88.6,146.0 89.6,176.0 90.6,150.0 91.4,116.0 92.2,73.8 93.0,73.8 93.8,120.0 95.0,160.0 97.0,170.0 98.6,200.0 100.0,190.0 102.2,231.0 103.4,222.0 104.8,236.5 106.2,200.0 107.0,160.0 109.5,73.0 110.3,73.0 110.3,110.0 111.6,160.0 112.4,200.0 113.7,222.5 116.0,212.0 118.3,225.2 120.4,170.0 121.8,123.0 123.4,131.0 124.8,126.6 126.0,150.0 127.8,144.0 129.4,160.0 133.9,227.0 137.4,172.0 138.4,150.0 139.4,98.2 140.2,98.2 141.6,122.0 144.0,150.0 145.0,172.0 145.8,203.0 146.8,172.0 147.9,145.6 149.4,172.0 150.6,198.0 151.6,182.0 153.5,225.2 155.6,188.0 156.8,196.0 158.6,165.0 160.8,120.0 161.6,112.8 163.6,116.0 164.6,160.0 165.6,200.0 168.2,234.4 170.6,200.0 172.8,164.7 174.6,198.0 176.0,206.0 177.6,198.0 181.6,243.6 184.0,210.0 184.8,153.0 187.0,152.0 187.6,120.0 188.8,54.6 189.5,54.6 191.0,90.0 192.9,120.3 194.5,130.2 195.4,105.0 196.3,87.9 198.0,94.5 199.4,92.0 202.0,108.6 203.4,95.0 204.6,86.6 206.4,84.0 207.4,60.0 208.1,26.0 208.9,26.0 209.6,60.0 210.6,130.0 213.5,210.6 216.6,160.0 217.6,90.0 219.3,34.2 221.0,42.0 223.3,48.9 224.2,60.0 225.0,130.0 227.9,166.7 229.4,132.0 230.7,144.7 232.4,126.0 234.0,141.0 235.0,110.0 235.7,87.7 236.4,87.7 237.4,108.0 240.6,118.5 242.5,110.0 243.4,67.2 247.4,64.0 249.0,50.0 250.7,37.9 252.0,60.0 253.8,96.5 254.8,60.0 255.7,27.8 257.0,36.0 258.8,43.5 259.5,60.0 260.2,140.0 261.9,174.6 263.6,166.0 265.6,182.8 266.8,176.0 268.0,201.0 270.0,150.0 271.3,93.2 272.0,93.2 273.4,150.0 274.7,186.5 276.2,162.0 277.9,189.2 280.0,152.0 281.5,159.3 283.4,125.0 284.8,104.7 285.7,109.0 287.4,96.0 288.5,87.3 289.6,125.0 292.5,186.5 294.9,140.0 295.6,118.0 296.6,110.0 298.3,91.0 298.7,71.0 300.7,68.5 301.8,50.0 302.5,30.0 302.7,20.0 306.8,20.0 311.8,20.0 311.8,-50.0" fill="#d9d9d9" fill-opacity="0.5"/>
<polyline points="45.2,243.0 47.0,243.0 47.4,150.0 47.6,128.0 47.9,150.0 48.4,178.0 48.9,150.0 49.6,117.0 50.4,112.0 51.2,118.0 52.3,150.0 52.9,180.0 53.3,196.0 53.8,150.0 54.4,134.0 54.9,150.0 55.2,172.0 55.7,135.0 56.0,121.0 56.6,121.0 57.0,150.0 57.7,196.0 58.4,165.0 59.2,148.0 60.0,143.0 60.8,150.0 61.6,175.0 62.2,206.0 62.8,170.0 63.5,150.0 64.1,146.0 64.6,160.0 65.2,235.0 65.7,170.0 66.5,150.0 67.1,165.0 67.6,190.0 68.2,155.0 68.8,146.0 69.5,160.0 70.2,186.0 70.8,170.0 71.1,83.0 71.7,83.0 73.4,109.0 74.6,160.0 75.2,184.0 76.0,150.0 77.0,188.0 78.0,146.0 79.0,172.0 80.0,148.0 81.0,165.0 82.4,116.0 83.0,52.4 83.8,52.4 84.6,104.0 86.2,150.0 87.6,172.0 88.6,146.0 89.6,176.0 90.6,150.0 91.4,116.0 92.2,73.8 93.0,73.8 93.8,120.0 95.0,160.0 97.0,170.0 98.6,200.0 100.0,190.0 102.2,231.0 103.4,222.0 104.8,236.5 106.2,200.0 107.0,160.0 109.5,73.0 110.3,73.0 110.3,110.0 111.6,160.0 112.4,200.0 113.7,222.5 116.0,212.0 118.3,225.2 120.4,170.0 121.8,123.0 123.4,131.0 124.8,126.6 126.0,150.0 127.8,144.0 129.4,160.0 133.9,227.0 137.4,172.0 138.4,150.0 139.4,98.2 140.2,98.2 141.6,122.0 144.0,150.0 145.0,172.0 145.8,203.0 146.8,172.0 147.9,145.6 149.4,172.0 150.6,198.0 151.6,182.0 153.5,225.2 155.6,188.0 156.8,196.0 158.6,165.0 160.8,120.0 161.6,112.8 163.6,116.0 164.6,160.0 165.6,200.0 168.2,234.4 170.6,200.0 172.8,164.7 174.6,198.0 176.0,206.0 177.6,198.0 181.6,243.6 184.0,210.0 184.8,153.0 187.0,152.0 187.6,120.0 188.8,54.6 189.5,54.6 191.0,90.0 192.9,120.3 194.5,130.2 195.4,105.0 196.3,87.9 198.0,94.5 199.4,92.0 202.0,108.6 203.4,95.0 204.6,86.6 206.4,84.0 207.4,60.0 208.1,26.0 208.9,26.0 209.6,60.0 210.6,130.0 213.5,210.6 216.6,160.0 217.6,90.0 219.3,34.2 221.0,42.0 223.3,48.9 224.2,60.0 225.0,130.0 227.9,166.7 229.4,132.0 230.7,144.7 232.4,126.0 234.0,141.0 235.0,110.0 235.7,87.7 236.4,87.7 237.4,108.0 240.6,118.5 242.5,110.0 243.4,67.2 247.4,64.0 249.0,50.0 250.7,37.9 252.0,60.0 253.8,96.5 254.8,60.0 255.7,27.8 257.0,36.0 258.8,43.5 259.5,60.0 260.2,140.0 261.9,174.6 263.6,166.0 265.6,182.8 266.8,176.0 268.0,201.0 270.0,150.0 271.3,93.2 272.0,93.2 273.4,150.0 274.7,186.5 276.2,162.0 277.9,189.2 280.0,152.0 281.5,159.3 283.4,125.0 284.8,104.7 285.7,109.0 287.4,96.0 288.5,87.3 289.6,125.0 292.5,186.5 294.9,140.0 295.6,118.0 296.6,110.0 298.3,91.0 298.7,71.0 300.7,68.5 301.8,50.0 302.5,30.0 302.7,20.0 306.8,20.0" fill="none" stroke="#cfcfcf" stroke-width="1.4" stroke-linejoin="round"/>
<polygon points="40.0,-50.0 49.7,26.5 52.8,50.0 57.4,80.0 60.3,100.0 63.4,114.0 66.6,130.0 69.1,141.0 71.3,150.0 77.5,172.0 83.7,193.0 90.6,210.0 98.7,230.0 106.9,250.0 121.3,287.0 40.0,306.5" fill="#000000" fill-opacity="0.3"/>
<polyline points="49.7,26.5 52.8,50.0 57.4,80.0 60.3,100.0 63.4,114.0 66.6,130.0 69.1,141.0 71.3,150.0 77.5,172.0 83.7,193.0 90.6,210.0 98.7,230.0 106.9,250.0 121.3,287.0" fill="none" stroke="#7c7878" stroke-width="1.3" stroke-dasharray="5 3.5"/>
</g>
<g stroke="#666666" stroke-width="0.6" fill="none">
<line x1="45.20" y1="286.5" x2="45.20" y2="282.5"/>
<line x1="45.20" y1="26.5" x2="45.20" y2="30.5"/>
<line x1="55.66" y1="286.5" x2="55.66" y2="284.1"/>
<line x1="55.66" y1="26.5" x2="55.66" y2="28.9"/>
<line x1="66.13" y1="286.5" x2="66.13" y2="284.1"/>
<line x1="66.13" y1="26.5" x2="66.13" y2="28.9"/>
<line x1="76.59" y1="286.5" x2="76.59" y2="284.1"/>
<line x1="76.59" y1="26.5" x2="76.59" y2="28.9"/>
<line x1="87.06" y1="286.5" x2="87.06" y2="284.1"/>
<line x1="87.06" y1="26.5" x2="87.06" y2="28.9"/>
<line x1="97.52" y1="286.5" x2="97.52" y2="282.5"/>
<line x1="97.52" y1="26.5" x2="97.52" y2="30.5"/>
<line x1="107.98" y1="286.5" x2="107.98" y2="284.1"/>
<line x1="107.98" y1="26.5" x2="107.98" y2="28.9"/>
<line x1="118.45" y1="286.5" x2="118.45" y2="284.1"/>
<line x1="118.45" y1="26.5" x2="118.45" y2="28.9"/>
<line x1="128.91" y1="286.5" x2="128.91" y2="284.1"/>
<line x1="128.91" y1="26.5" x2="128.91" y2="28.9"/>
<line x1="139.38" y1="286.5" x2="139.38" y2="284.1"/>
<line x1="139.38" y1="26.5" x2="139.38" y2="28.9"/>
<line x1="149.84" y1="286.5" x2="149.84" y2="282.5"/>
<line x1="149.84" y1="26.5" x2="149.84" y2="30.5"/>
<line x1="160.30" y1="286.5" x2="160.30" y2="284.1"/>
<line x1="160.30" y1="26.5" x2="160.30" y2="28.9"/>
<line x1="170.77" y1="286.5" x2="170.77" y2="284.1"/>
<line x1="170.77" y1="26.5" x2="170.77" y2="28.9"/>
<line x1="181.23" y1="286.5" x2="181.23" y2="284.1"/>
<line x1="181.23" y1="26.5" x2="181.23" y2="28.9"/>
<line x1="191.70" y1="286.5" x2="191.70" y2="284.1"/>
<line x1="191.70" y1="26.5" x2="191.70" y2="28.9"/>
<line x1="202.16" y1="286.5" x2="202.16" y2="282.5"/>
<line x1="202.16" y1="26.5" x2="202.16" y2="30.5"/>
<line x1="212.62" y1="286.5" x2="212.62" y2="284.1"/>
<line x1="212.62" y1="26.5" x2="212.62" y2="28.9"/>
<line x1="223.09" y1="286.5" x2="223.09" y2="284.1"/>
<line x1="223.09" y1="26.5" x2="223.09" y2="28.9"/>
<line x1="233.55" y1="286.5" x2="233.55" y2="284.1"/>
<line x1="233.55" y1="26.5" x2="233.55" y2="28.9"/>
<line x1="244.02" y1="286.5" x2="244.02" y2="284.1"/>
<line x1="244.02" y1="26.5" x2="244.02" y2="28.9"/>
<line x1="254.48" y1="286.5" x2="254.48" y2="282.5"/>
<line x1="254.48" y1="26.5" x2="254.48" y2="30.5"/>
<line x1="264.94" y1="286.5" x2="264.94" y2="284.1"/>
<line x1="264.94" y1="26.5" x2="264.94" y2="28.9"/>
<line x1="275.41" y1="286.5" x2="275.41" y2="284.1"/>
<line x1="275.41" y1="26.5" x2="275.41" y2="28.9"/>
<line x1="285.87" y1="286.5" x2="285.87" y2="284.1"/>
<line x1="285.87" y1="26.5" x2="285.87" y2="28.9"/>
<line x1="296.34" y1="286.5" x2="296.34" y2="284.1"/>
<line x1="296.34" y1="26.5" x2="296.34" y2="28.9"/>
<line x1="306.80" y1="286.5" x2="306.80" y2="282.5"/>
<line x1="306.80" y1="26.5" x2="306.80" y2="30.5"/>
<line x1="45.2" y1="286.50" x2="47.6" y2="286.50"/>
<line x1="306.8" y1="286.50" x2="304.40000000000003" y2="286.50"/>
<line x1="45.2" y1="277.83" x2="47.6" y2="277.83"/>
<line x1="306.8" y1="277.83" x2="304.40000000000003" y2="277.83"/>
<line x1="45.2" y1="269.17" x2="49.2" y2="269.17"/>
<line x1="306.8" y1="269.17" x2="302.8" y2="269.17"/>
<line x1="45.2" y1="260.50" x2="47.6" y2="260.50"/>
<line x1="306.8" y1="260.50" x2="304.40000000000003" y2="260.50"/>
<line x1="45.2" y1="251.83" x2="47.6" y2="251.83"/>
<line x1="306.8" y1="251.83" x2="304.40000000000003" y2="251.83"/>
<line x1="45.2" y1="243.17" x2="47.6" y2="243.17"/>
<line x1="306.8" y1="243.17" x2="304.40000000000003" y2="243.17"/>
<line x1="45.2" y1="234.50" x2="47.6" y2="234.50"/>
<line x1="306.8" y1="234.50" x2="304.40000000000003" y2="234.50"/>
<line x1="45.2" y1="225.83" x2="49.2" y2="225.83"/>
<line x1="306.8" y1="225.83" x2="302.8" y2="225.83"/>
<line x1="45.2" y1="217.17" x2="47.6" y2="217.17"/>
<line x1="306.8" y1="217.17" x2="304.40000000000003" y2="217.17"/>
<line x1="45.2" y1="208.50" x2="47.6" y2="208.50"/>
<line x1="306.8" y1="208.50" x2="304.40000000000003" y2="208.50"/>
<line x1="45.2" y1="199.83" x2="47.6" y2="199.83"/>
<line x1="306.8" y1="199.83" x2="304.40000000000003" y2="199.83"/>
<line x1="45.2" y1="191.17" x2="47.6" y2="191.17"/>
<line x1="306.8" y1="191.17" x2="304.40000000000003" y2="191.17"/>
<line x1="45.2" y1="182.50" x2="49.2" y2="182.50"/>
<line x1="306.8" y1="182.50" x2="302.8" y2="182.50"/>
<line x1="45.2" y1="173.83" x2="47.6" y2="173.83"/>
<line x1="306.8" y1="173.83" x2="304.40000000000003" y2="173.83"/>
<line x1="45.2" y1="165.17" x2="47.6" y2="165.17"/>
<line x1="306.8" y1="165.17" x2="304.40000000000003" y2="165.17"/>
<line x1="45.2" y1="156.50" x2="47.6" y2="156.50"/>
<line x1="306.8" y1="156.50" x2="304.40000000000003" y2="156.50"/>
<line x1="45.2" y1="147.83" x2="47.6" y2="147.83"/>
<line x1="306.8" y1="147.83" x2="304.40000000000003" y2="147.83"/>
<line x1="45.2" y1="139.17" x2="49.2" y2="139.17"/>
<line x1="306.8" y1="139.17" x2="302.8" y2="139.17"/>
<line x1="45.2" y1="130.50" x2="47.6" y2="130.50"/>
<line x1="306.8" y1="130.50" x2="304.40000000000003" y2="130.50"/>
<line x1="45.2" y1="121.83" x2="47.6" y2="121.83"/>
<line x1="306.8" y1="121.83" x2="304.40000000000003" y2="121.83"/>
<line x1="45.2" y1="113.17" x2="47.6" y2="113.17"/>
<line x1="306.8" y1="113.17" x2="304.40000000000003" y2="113.17"/>
<line x1="45.2" y1="104.50" x2="47.6" y2="104.50"/>
<line x1="306.8" y1="104.50" x2="304.40000000000003" y2="104.50"/>
<line x1="45.2" y1="95.83" x2="49.2" y2="95.83"/>
<line x1="306.8" y1="95.83" x2="302.8" y2="95.83"/>
<line x1="45.2" y1="87.17" x2="47.6" y2="87.17"/>
<line x1="306.8" y1="87.17" x2="304.40000000000003" y2="87.17"/>
<line x1="45.2" y1="78.50" x2="47.6" y2="78.50"/>
<line x1="306.8" y1="78.50" x2="304.40000000000003" y2="78.50"/>
<line x1="45.2" y1="69.83" x2="47.6" y2="69.83"/>
<line x1="306.8" y1="69.83" x2="304.40000000000003" y2="69.83"/>
<line x1="45.2" y1="61.17" x2="47.6" y2="61.17"/>
<line x1="306.8" y1="61.17" x2="304.40000000000003" y2="61.17"/>
<line x1="45.2" y1="52.50" x2="49.2" y2="52.50"/>
<line x1="306.8" y1="52.50" x2="302.8" y2="52.50"/>
<line x1="45.2" y1="43.83" x2="47.6" y2="43.83"/>
<line x1="306.8" y1="43.83" x2="304.40000000000003" y2="43.83"/>
<line x1="45.2" y1="35.17" x2="47.6" y2="35.17"/>
<line x1="306.8" y1="35.17" x2="304.40000000000003" y2="35.17"/>
<line x1="45.2" y1="26.50" x2="47.6" y2="26.50"/>
<line x1="306.8" y1="26.50" x2="304.40000000000003" y2="26.50"/>
</g>
<rect x="45.2" y="26.5" width="261.6" height="260.0" fill="none" stroke="#707070" stroke-width="0.8"/>
<rect x="331.0" y="69.00" width="13.0" height="25.91" fill="#ff00ff"/>
<rect x="331.0" y="94.61" width="13.0" height="25.16" fill="#ffff00"/>
<rect x="331.0" y="119.47" width="13.0" height="25.16" fill="#00ee00"/>
<rect x="331.0" y="144.33" width="13.0" height="25.16" fill="#00ffff"/>
<rect x="331.0" y="169.19" width="13.0" height="25.16" fill="#e0ffe0"/>
<rect x="331.0" y="194.05" width="13.0" height="25.16" fill="#e0f0ff"/>
<rect x="331.0" y="218.91" width="13.0" height="25.16" fill="#00a6a1"/>
<rect x="331.0" y="69.0" width="13.0" height="174.77" fill="none" stroke="#000" stroke-opacity="0.13" stroke-width="0.6"/>
<line x1="331.0" y1="94.61" x2="344.0" y2="94.61" stroke="#333" stroke-opacity="0.45" stroke-width="0.6"/>
<line x1="344.0" y1="94.61" x2="346.6" y2="94.61" stroke="#b4b4b4" stroke-width="0.7"/>
<line x1="331.0" y1="119.47" x2="344.0" y2="119.47" stroke="#333" stroke-opacity="0.45" stroke-width="0.6"/>
<line x1="344.0" y1="119.47" x2="346.6" y2="119.47" stroke="#b4b4b4" stroke-width="0.7"/>
<line x1="331.0" y1="144.33" x2="344.0" y2="144.33" stroke="#333" stroke-opacity="0.45" stroke-width="0.6"/>
<line x1="344.0" y1="144.33" x2="346.6" y2="144.33" stroke="#b4b4b4" stroke-width="0.7"/>
<line x1="331.0" y1="169.19" x2="344.0" y2="169.19" stroke="#333" stroke-opacity="0.45" stroke-width="0.6"/>
<line x1="344.0" y1="169.19" x2="346.6" y2="169.19" stroke="#b4b4b4" stroke-width="0.7"/>
<line x1="331.0" y1="194.05" x2="344.0" y2="194.05" stroke="#333" stroke-opacity="0.45" stroke-width="0.6"/>
<line x1="344.0" y1="194.05" x2="346.6" y2="194.05" stroke="#b4b4b4" stroke-width="0.7"/>
<line x1="331.0" y1="218.91" x2="344.0" y2="218.91" stroke="#333" stroke-opacity="0.45" stroke-width="0.6"/>
<line x1="344.0" y1="218.91" x2="346.6" y2="218.91" stroke="#b4b4b4" stroke-width="0.7"/>
<g filter="url(#ga)">
<g class="tl">
<text x="45.2" y="302.6" text-anchor="middle">10</text>
<text x="97.5" y="302.6" text-anchor="middle">20</text>
<text x="149.8" y="302.6" text-anchor="middle">30</text>
<text x="202.2" y="302.6" text-anchor="middle">40</text>
<text x="254.5" y="302.6" text-anchor="middle">50</text>
<text x="306.8" y="302.6" text-anchor="middle">60</text>
<text x="42.4" y="274.2" text-anchor="end">1.0</text>
<text x="42.4" y="230.8" text-anchor="end">1.5</text>
<text x="42.4" y="187.5" text-anchor="end">2.0</text>
<text x="42.4" y="144.2" text-anchor="end">2.5</text>
<text x="42.4" y="100.8" text-anchor="end">3.0</text>
<text x="42.4" y="57.5" text-anchor="end">3.5</text>
<text x="349.8" y="99.6" class="tl">10.0</text>
<text x="349.8" y="124.5" class="tl">5.0</text>
<text x="349.8" y="149.3" class="tl">3.0</text>
<text x="349.8" y="174.2" class="tl">1.0</text>
<text x="349.8" y="199.1" class="tl">0.5</text>
<text x="349.8" y="223.9" class="tl">0.2</text>
</g>
<g font-size="13.9">
<text x="65.3" y="16.5">Event(C)/year/5kg/</text>
<text x="186.4" y="16.5" class="it">g</text>
<text x="195.3" y="11.5" font-size="9.6">2</text>
<text x="195.2" y="20.6" font-size="9.6" class="it">X</text>
<text x="202.6" y="16.5">,</text>
<text x="210.3" y="16.5" class="it">E</text>
<text x="218.9" y="20.6" font-size="9.6" class="it">R</text>
<text x="226.9" y="16.5">&gt;100 keV</text>
</g>
<g font-size="13.6">
<text x="146.4" y="322.6" class="it">m</text>
<text x="157.8" y="325.6" font-size="9.6" class="it">A'</text>
<text x="169" y="322.6">[MeV]</text>
</g>
<g transform="translate(14.7,181) rotate(-90)" font-size="13.2">
<text x="0.6" y="0">e</text>
<text x="8.0" y="0">&#1013;</text>
<text x="16.9" y="0" font-size="11">&#215;</text>
<text x="23.9" y="0">10</text>
<text x="38.0" y="-6.2" font-size="8.5">4</text>
</g>
<text x="140.5" y="88.2" font-size="12.4" style="font-weight:normal;fill:#0c0cf4;stroke:#0c0cf4;stroke-width:0.3">NA48</text>
<text x="62.2" y="256" font-size="12" style="font-weight:normal;fill:#dc1010;stroke:#dc1010;stroke-width:0.35">NA64</text>
</g>
</svg>
</body></html>
